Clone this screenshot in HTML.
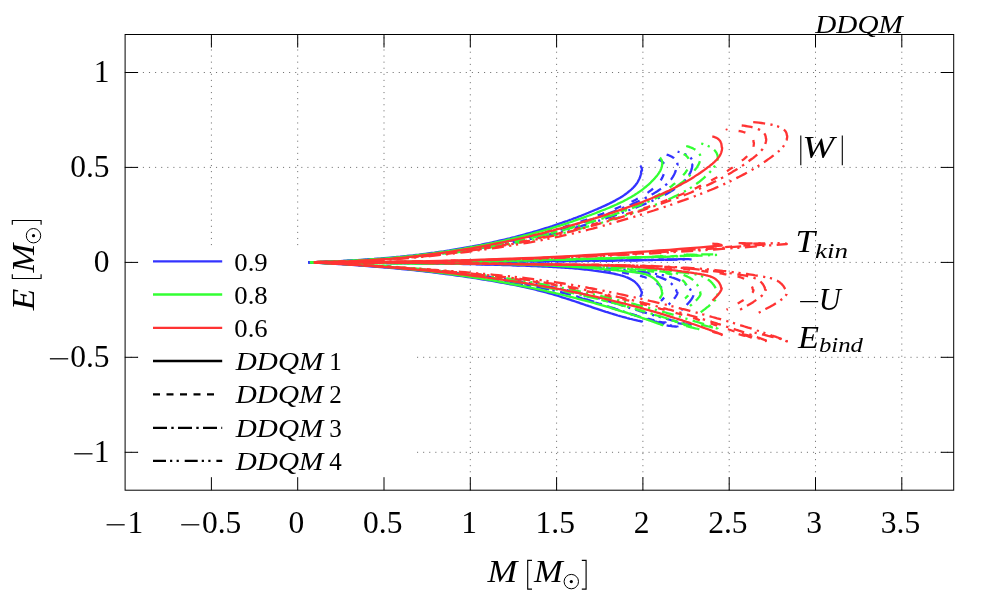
<!DOCTYPE html>
<html><head><meta charset="utf-8"><title>DDQM</title>
<style>html,body{margin:0;padding:0;background:#fff;font-family:"Liberation Serif",serif;}svg{display:block;will-change:transform}</style></head>
<body>
<svg width="997" height="598" viewBox="0 0 997 598">
<rect width="997" height="598" fill="#fff"/>
<g stroke="#000" stroke-opacity="0.55" stroke-width="1" stroke-dasharray="1.1 4.992" fill="none">
<path d="M211.4,245.12 V34.5" stroke-dasharray="1.1 4.980"/>
<path d="M297.7,245.12 V34.5" stroke-dasharray="1.1 4.980"/>
<path d="M384.0,245.12 V34.5" stroke-dasharray="1.1 4.980"/>
<path d="M470.3,490.55 V34.5" stroke-dasharray="1.1 4.980"/>
<path d="M556.6,490.55 V34.5" stroke-dasharray="1.1 4.980"/>
<path d="M642.9,490.55 V34.5" stroke-dasharray="1.1 4.980"/>
<path d="M729.2,490.55 V34.5" stroke-dasharray="1.1 4.980"/>
<path d="M815.5,490.55 V34.5" stroke-dasharray="1.1 4.980"/>
<path d="M901.8,490.55 V34.5" stroke-dasharray="1.1 4.980"/>
<path d="M124.6,72.5 H953.7"/>
<path d="M124.6,167.4 H953.7"/>
<path d="M124.6,262.4 H953.7"/>
<path d="M124.6,357.3 H953.7"/>
<path d="M124.6,452.3 H953.7"/>
</g>
<rect x="139" y="246.5" width="277.5" height="231.5" fill="#fff"/>
<g fill="none" stroke-width="2.3" stroke-linecap="butt" stroke-linejoin="round">
<g stroke="#3333ff">
<path d="M640.2,165.8 L640.4,165.9 L640.5,166.1 L640.6,166.2 L640.8,166.4 L640.9,166.6 L641.0,166.7 L641.1,166.9 L641.2,167.1 L641.3,167.3 L641.4,167.5 L641.5,167.7 L641.6,167.9 L641.7,168.1 L641.7,168.4 L641.8,168.6 L641.8,168.8 L641.9,169.1 L641.9,169.3 L641.9,169.6 L642.0,169.9 L642.0,170.1 L642.0,170.4 L642.0,170.7 L641.2,171.0 L641.2,171.2 L641.2,171.5 L641.2,171.8 L641.1,172.3 L641.1,172.7 L641.0,173.2 L640.9,173.8 L640.8,174.3 L640.7,175.0 L640.5,175.6 L640.3,176.3 L640.1,177.0 L639.8,177.8 L639.5,178.5 L639.1,179.3 L638.7,180.1 L638.3,180.9 L637.8,181.8 L637.3,182.6 L636.7,183.5 L636.1,184.3 L635.4,185.2 L634.7,186.1 L633.9,186.9 L633.1,187.8 L632.2,188.6 L631.3,189.5 L630.3,190.4 L629.3,191.2 L628.3,192.0 L627.2,192.9 L626.1,193.7 L625.0,194.5 L623.8,195.4 L622.6,196.2 L621.3,197.0 L620.1,197.8 L618.7,198.6 L617.4,199.3 L616.0,200.1 L614.6,200.9 L613.2,201.6 L611.7,202.4 L610.2,203.1 L608.7,203.9 L607.1,204.6 L605.5,205.4 L603.9,206.1 L602.3,206.8 L600.6,207.6 L598.9,208.3 L597.2,209.1 L595.5,209.8 L593.8,210.5 L592.0,211.3 L590.2,212.0 L588.4,212.8 L586.6,213.5 L584.7,214.3 L582.9,215.0 L581.0,215.8 L579.0,216.5 L577.1,217.3 L575.2,218.0 L573.2,218.7 L571.2,219.5 L569.2,220.2 L567.1,221.0 L565.1,221.7 L563.0,222.4 L560.9,223.2 L558.8,223.9 L556.6,224.6 L554.5,225.3 L552.3,226.1 L550.1,226.8 L547.9,227.5 L545.6,228.2 L543.4,228.9 L541.1,229.6 L538.8,230.3 L536.5,231.0 L534.1,231.7 L531.8,232.4 L529.4,233.0 L527.0,233.7 L524.6,234.4 L522.2,235.0 L519.7,235.7 L517.2,236.3 L514.7,237.0 L512.2,237.6 L509.7,238.3 L507.2,238.9 L504.6,239.5 L502.0,240.1 L499.4,240.7 L496.8,241.3 L494.1,241.9 L491.5,242.5 L488.8,243.1 L486.1,243.6 L483.4,244.2 L480.6,244.8 L477.9,245.3 L475.1,245.8 L472.3,246.4 L469.5,246.9 L466.7,247.4 L463.9,247.9 L461.0,248.4 L458.1,248.9 L455.2,249.4 L452.3,249.9 L449.4,250.4 L446.4,250.8 L443.5,251.3 L440.5,251.7 L437.5,252.1 L434.5,252.6 L431.5,253.0 L428.4,253.4 L425.3,253.8 L422.3,254.2 L419.2,254.6 L416.0,254.9 L412.9,255.3 L409.8,255.6 L406.6,256.0 L403.4,256.3 L400.2,256.7 L397.0,257.0 L393.8,257.3 L390.6,257.6 L387.3,257.9 L384.0,258.2 L380.7,258.5 L377.4,258.7 L374.1,259.0 L370.8,259.2 L367.5,259.5 L364.1,259.7 L360.7,259.9 L357.3,260.1 L353.9,260.4 L350.5,260.6 L347.1,260.8 L343.7,260.9 L340.2,261.1 L336.7,261.3 L333.2,261.4 L329.8,261.6 L326.2,261.7 L322.7,261.9 L319.2,262.0 L315.7,262.1 L312.1,262.2 L308.5,262.4"/>
<path d="M640.2,259.7 L640.7,259.7 L641.1,259.8 L641.4,259.8 L641.7,259.9 L641.9,259.9 L642.0,260.0 L642.0,260.0 L633.4,260.2 L624.9,260.3 L616.3,260.4 L607.7,260.5 L599.2,260.6 L590.6,260.7 L582.1,260.8 L573.5,260.9 L564.9,261.0 L556.4,261.1 L547.8,261.2 L539.2,261.3 L530.7,261.4 L522.1,261.5 L513.5,261.6 L505.0,261.6 L496.4,261.7 L487.8,261.8 L479.3,261.8 L470.7,261.9 L462.2,261.9 L453.6,262.0 L445.0,262.0 L436.5,262.1 L427.9,262.1 L419.3,262.2 L410.8,262.2 L402.2,262.2 L393.6,262.3 L385.1,262.3 L376.5,262.3 L367.9,262.3 L359.4,262.3 L350.8,262.4 L342.3,262.4 L333.7,262.4 L325.1,262.4 L316.6,262.4 L308.0,262.4"/>
<path d="M640.2,297.1 L640.4,296.8 L640.5,296.5 L640.6,296.2 L640.8,295.9 L640.9,295.6 L641.0,295.4 L641.1,295.1 L641.2,294.9 L641.3,294.6 L641.4,294.4 L641.5,294.1 L641.6,293.9 L641.7,293.7 L641.7,293.5 L641.8,293.3 L641.8,293.1 L641.9,293.0 L641.9,292.8 L641.9,292.6 L642.0,292.5 L642.0,292.4 L642.0,292.2 L642.0,292.1 L641.5,291.9 L641.5,291.7 L641.4,291.4 L641.3,291.1 L641.2,290.7 L641.0,290.3 L640.8,289.8 L640.6,289.3 L640.4,288.8 L640.1,288.3 L639.8,287.7 L639.4,287.1 L639.0,286.5 L638.6,285.9 L638.1,285.3 L637.6,284.7 L637.1,284.1 L636.5,283.4 L635.8,282.8 L635.2,282.2 L634.5,281.6 L633.7,281.1 L632.9,280.5 L632.0,279.9 L631.1,279.4 L630.1,278.9 L629.1,278.4 L628.1,277.9 L627.0,277.4 L625.8,277.0 L624.6,276.5 L623.4,276.1 L622.1,275.7 L620.8,275.4 L619.4,275.0 L618.0,274.7 L616.6,274.3 L615.1,274.0 L613.6,273.7 L612.1,273.4 L610.6,273.1 L609.0,272.8 L607.4,272.6 L605.8,272.3 L604.2,272.0 L602.5,271.8 L600.8,271.5 L599.1,271.3 L597.4,271.0 L595.7,270.8 L594.0,270.6 L592.2,270.3 L590.5,270.1 L588.7,269.9 L586.9,269.7 L585.0,269.5 L583.2,269.3 L581.3,269.1 L579.4,268.9 L577.6,268.7 L575.6,268.6 L573.7,268.4 L571.8,268.2 L569.8,268.1 L567.8,267.9 L565.8,267.8 L563.8,267.6 L561.8,267.5 L559.7,267.4 L557.7,267.3 L555.6,267.1 L553.5,267.0 L551.4,266.9 L549.3,266.8 L547.1,266.7 L544.9,266.6 L542.7,266.5 L540.5,266.4 L538.3,266.3 L536.1,266.2 L533.8,266.1 L531.5,266.0 L529.2,265.9 L526.9,265.8 L524.6,265.7 L522.2,265.6 L519.9,265.5 L517.5,265.5 L515.1,265.4 L512.7,265.3 L510.2,265.2 L507.8,265.1 L505.3,265.0 L502.8,265.0 L500.3,264.9 L497.8,264.8 L495.2,264.7 L492.7,264.7 L490.1,264.6 L487.5,264.5 L484.9,264.5 L482.3,264.4 L479.6,264.3 L477.0,264.3 L474.3,264.2 L471.6,264.1 L468.9,264.1 L466.2,264.0 L463.4,264.0 L460.7,263.9 L457.9,263.9 L455.1,263.8 L452.3,263.8 L449.5,263.7 L446.7,263.7 L443.8,263.6 L441.0,263.6 L438.1,263.5 L435.2,263.5 L432.3,263.4 L429.4,263.4 L426.4,263.4 L423.5,263.3 L420.5,263.3 L417.5,263.3 L414.5,263.2 L411.5,263.2 L408.5,263.2 L405.4,263.1 L402.4,263.1 L399.3,263.1 L396.3,263.0 L393.2,263.0 L390.1,263.0 L386.9,263.0 L383.8,262.9 L380.7,262.9 L377.5,262.9 L374.3,262.9 L371.2,262.8 L368.0,262.8 L364.8,262.8 L361.5,262.8 L358.3,262.7 L355.1,262.7 L351.8,262.7 L348.6,262.7 L345.3,262.7 L342.0,262.6 L338.7,262.6 L335.4,262.6 L332.1,262.6 L328.7,262.5 L325.4,262.5 L322.0,262.5 L318.7,262.5 L315.3,262.4 L311.9,262.4 L308.5,262.4"/>
<path d="M640.2,321.3 L640.4,321.3 L640.6,321.4 L640.8,321.4 L641.0,321.4 L641.2,321.4 L641.4,321.4 L641.6,321.5 L641.8,321.5 L642.0,321.4 L641.9,321.5 L641.7,321.4 L641.4,321.4 L641.1,321.3 L640.7,321.2 L640.2,321.1 L639.7,321.0 L639.2,320.9 L638.6,320.8 L638.0,320.7 L637.3,320.5 L636.6,320.4 L635.9,320.2 L635.2,320.0 L634.4,319.9 L633.5,319.7 L632.7,319.5 L631.8,319.2 L630.9,319.0 L629.9,318.8 L629.0,318.5 L628.0,318.3 L626.9,318.0 L625.9,317.7 L624.8,317.4 L623.7,317.1 L622.6,316.8 L621.4,316.5 L620.3,316.2 L619.1,315.8 L617.8,315.5 L616.6,315.1 L615.3,314.7 L614.1,314.3 L612.7,313.9 L611.4,313.5 L610.1,313.1 L608.7,312.7 L607.3,312.2 L605.9,311.8 L604.4,311.3 L603.0,310.9 L601.5,310.4 L600.0,309.9 L598.5,309.4 L597.0,308.9 L595.4,308.4 L593.8,307.8 L592.3,307.3 L590.6,306.7 L589.0,306.2 L587.4,305.6 L585.7,305.1 L584.0,304.5 L582.3,303.9 L580.6,303.3 L578.8,302.7 L577.1,302.1 L575.3,301.5 L573.5,300.9 L571.7,300.3 L569.8,299.7 L568.0,299.1 L566.1,298.5 L564.2,297.9 L562.3,297.3 L560.4,296.6 L558.4,296.0 L556.5,295.4 L554.5,294.8 L552.5,294.2 L550.4,293.7 L548.4,293.1 L546.3,292.5 L544.2,291.9 L542.1,291.4 L540.0,290.8 L537.8,290.3 L535.7,289.7 L533.5,289.2 L531.3,288.7 L529.0,288.2 L526.8,287.6 L524.5,287.1 L522.2,286.6 L519.9,286.2 L517.6,285.7 L515.3,285.2 L512.9,284.7 L510.5,284.3 L508.1,283.8 L505.7,283.3 L503.3,282.9 L500.8,282.5 L498.4,282.0 L495.9,281.6 L493.4,281.2 L490.9,280.7 L488.3,280.3 L485.8,279.9 L483.2,279.5 L480.6,279.0 L478.0,278.6 L475.4,278.2 L472.8,277.8 L470.2,277.4 L467.5,277.0 L464.8,276.6 L462.1,276.2 L459.4,275.9 L456.7,275.5 L453.9,275.1 L451.2,274.7 L448.4,274.3 L445.6,274.0 L442.8,273.6 L440.0,273.3 L437.1,272.9 L434.3,272.6 L431.4,272.2 L428.5,271.9 L425.6,271.5 L422.7,271.2 L419.8,270.9 L416.9,270.6 L413.9,270.2 L410.9,269.9 L407.9,269.6 L404.9,269.3 L401.9,269.0 L398.9,268.7 L395.8,268.4 L392.8,268.1 L389.7,267.8 L386.6,267.6 L383.5,267.3 L380.4,267.0 L377.3,266.8 L374.1,266.5 L371.0,266.3 L367.8,266.0 L364.6,265.8 L361.4,265.5 L358.2,265.3 L355.0,265.1 L351.8,264.8 L348.5,264.6 L345.2,264.4 L342.0,264.2 L338.7,264.0 L335.4,263.8 L332.1,263.6 L328.7,263.4 L325.4,263.2 L322.0,263.0 L318.7,262.8 L315.3,262.7 L311.9,262.5 L308.5,262.3"/>
<path d="M658.6,159.6 L659.2,159.9 L659.7,160.1 L660.3,160.4 L660.8,160.7 L661.3,161.0 L661.7,161.3 L662.2,161.6 L662.6,162.0 L662.9,162.3 L663.3,162.7 L663.6,163.1 L663.9,163.5 L664.2,163.9 L664.4,164.3 L664.7,164.7 L664.9,165.1 L665.0,165.6 L665.2,166.0 L665.3,166.5 L665.4,167.0 L665.4,167.5 L665.5,168.0 L665.5,168.5 L664.7,168.8 L664.7,169.0 L664.6,169.3 L664.6,169.7 L664.6,170.1 L664.5,170.6 L664.4,171.1 L664.3,171.6 L664.2,172.2 L664.1,172.9 L663.9,173.5 L663.7,174.2 L663.4,175.0 L663.1,175.7 L662.8,176.5 L662.4,177.3 L662.0,178.2 L661.5,179.0 L661.0,179.9 L660.5,180.7 L659.8,181.6 L659.2,182.5 L658.4,183.4 L657.7,184.2 L656.8,185.1 L656.0,186.0 L655.0,186.9 L654.1,187.8 L653.0,188.6 L652.0,189.5 L650.9,190.4 L649.7,191.2 L648.5,192.1 L647.3,192.9 L646.1,193.7 L644.8,194.6 L643.4,195.4 L642.1,196.2 L640.7,197.0 L639.2,197.8 L637.7,198.6 L636.2,199.4 L634.7,200.2 L633.1,201.0 L631.5,201.7 L629.9,202.5 L628.2,203.2 L626.5,204.0 L624.8,204.8 L623.1,205.5 L621.3,206.3 L619.5,207.0 L617.7,207.8 L615.8,208.5 L614.0,209.3 L612.1,210.1 L610.2,210.8 L608.2,211.6 L606.3,212.4 L604.3,213.1 L602.3,213.9 L600.3,214.6 L598.2,215.4 L596.2,216.2 L594.1,216.9 L592.0,217.7 L589.8,218.5 L587.7,219.2 L585.5,220.0 L583.3,220.7 L581.1,221.5 L578.9,222.2 L576.6,223.0 L574.3,223.7 L572.0,224.5 L569.7,225.2 L567.3,225.9 L565.0,226.7 L562.6,227.4 L560.1,228.1 L557.7,228.8 L555.3,229.5 L552.8,230.2 L550.3,230.9 L547.8,231.6 L545.2,232.3 L542.7,233.0 L540.1,233.7 L537.5,234.4 L534.9,235.1 L532.2,235.7 L529.6,236.4 L526.9,237.0 L524.2,237.7 L521.5,238.3 L518.7,239.0 L515.9,239.6 L513.2,240.2 L510.4,240.8 L507.5,241.4 L504.7,242.0 L501.8,242.6 L499.0,243.2 L496.1,243.8 L493.1,244.3 L490.2,244.9 L487.2,245.5 L484.3,246.0 L481.3,246.5 L478.2,247.1 L475.2,247.6 L472.1,248.1 L469.1,248.6 L466.0,249.1 L462.9,249.6 L459.7,250.1 L456.6,250.5 L453.4,251.0 L450.2,251.4 L447.0,251.9 L443.8,252.3 L440.6,252.8 L437.3,253.2 L434.1,253.6 L430.8,254.0 L427.4,254.4 L424.1,254.8 L420.8,255.1 L417.4,255.5 L414.0,255.8 L410.6,256.2 L407.2,256.5 L403.8,256.9 L400.4,257.2 L396.9,257.5 L393.4,257.8 L389.9,258.1 L386.4,258.4 L382.9,258.6 L379.4,258.9 L375.8,259.2 L372.2,259.4 L368.6,259.6 L365.0,259.9 L361.4,260.1 L357.8,260.3 L354.1,260.5 L350.5,260.7 L346.8,260.9 L343.1,261.1 L339.4,261.3 L335.7,261.4 L331.9,261.6 L328.2,261.7 L324.4,261.9 L320.7,262.0 L316.9,262.1 L313.1,262.2 L309.3,262.4" stroke-dasharray="7 11.3"/>
<path d="M658.6,259.4 L660.4,259.5 L662.0,259.5 L663.2,259.5 L664.2,259.6 L664.9,259.6 L665.4,259.7 L665.5,259.7 L656.3,259.9 L647.2,260.0 L638.0,260.2 L628.8,260.3 L619.7,260.4 L610.5,260.5 L601.3,260.7 L592.2,260.8 L583.0,260.9 L573.8,261.0 L564.7,261.1 L555.5,261.2 L546.3,261.3 L537.2,261.4 L528.0,261.5 L518.8,261.5 L509.7,261.6 L500.5,261.7 L491.3,261.8 L482.2,261.8 L473.0,261.9 L463.8,261.9 L454.7,262.0 L445.5,262.0 L436.3,262.1 L427.2,262.1 L418.0,262.2 L408.8,262.2 L399.7,262.2 L390.5,262.3 L381.3,262.3 L372.2,262.3 L363.0,262.3 L353.8,262.4 L344.7,262.4 L335.5,262.4 L326.3,262.4 L317.2,262.4 L308.0,262.4" stroke-dasharray="7 11.3"/>
<path d="M661.0,301.0 L661.4,300.6 L661.7,300.3 L662.1,299.9 L662.4,299.6 L662.7,299.2 L663.0,298.9 L663.3,298.6 L663.6,298.3 L663.8,298.0 L664.1,297.7 L664.3,297.5 L664.5,297.2 L664.6,296.9 L664.8,296.7 L665.0,296.5 L665.1,296.3 L665.2,296.0 L665.3,295.8 L665.4,295.7 L665.4,295.5 L665.5,295.3 L665.5,295.1 L665.5,295.0 L665.0,294.8 L664.9,294.6 L664.9,294.3 L664.8,293.9 L664.6,293.5 L664.5,293.0 L664.3,292.5 L664.0,292.0 L663.7,291.4 L663.4,290.8 L663.1,290.2 L662.7,289.5 L662.3,288.9 L661.8,288.2 L661.4,287.5 L660.8,286.8 L660.2,286.2 L659.6,285.5 L658.9,284.8 L658.2,284.2 L657.4,283.5 L656.6,282.9 L655.7,282.3 L654.8,281.7 L653.9,281.1 L652.8,280.5 L651.8,279.9 L650.6,279.4 L649.5,278.9 L648.2,278.4 L647.0,277.9 L645.6,277.5 L644.3,277.0 L642.9,276.6 L641.4,276.2 L639.9,275.8 L638.4,275.5 L636.8,275.1 L635.2,274.8 L633.6,274.5 L631.9,274.2 L630.2,273.9 L628.5,273.6 L626.8,273.3 L625.1,273.0 L623.3,272.7 L621.5,272.4 L619.7,272.1 L617.9,271.9 L616.1,271.6 L614.2,271.3 L612.3,271.1 L610.4,270.9 L608.5,270.6 L606.6,270.4 L604.6,270.2 L602.7,270.0 L600.7,269.7 L598.7,269.5 L596.7,269.3 L594.6,269.2 L592.6,269.0 L590.5,268.8 L588.4,268.6 L586.3,268.5 L584.1,268.3 L582.0,268.2 L579.8,268.0 L577.6,267.9 L575.4,267.7 L573.2,267.6 L571.0,267.5 L568.7,267.3 L566.4,267.2 L564.1,267.1 L561.8,267.0 L559.5,266.9 L557.1,266.8 L554.7,266.7 L552.3,266.6 L549.9,266.5 L547.5,266.3 L545.0,266.2 L542.6,266.1 L540.1,266.0 L537.6,265.9 L535.0,265.9 L532.5,265.8 L529.9,265.7 L527.3,265.6 L524.7,265.5 L522.1,265.4 L519.5,265.3 L516.8,265.2 L514.1,265.1 L511.4,265.1 L508.7,265.0 L506.0,264.9 L503.2,264.8 L500.5,264.7 L497.7,264.7 L494.9,264.6 L492.0,264.5 L489.2,264.4 L486.3,264.4 L483.5,264.3 L480.6,264.2 L477.7,264.2 L474.7,264.1 L471.8,264.1 L468.8,264.0 L465.9,263.9 L462.9,263.9 L459.9,263.8 L456.8,263.8 L453.8,263.7 L450.7,263.7 L447.7,263.6 L444.6,263.6 L441.5,263.5 L438.3,263.5 L435.2,263.5 L432.0,263.4 L428.9,263.4 L425.7,263.3 L422.5,263.3 L419.3,263.3 L416.0,263.2 L412.8,263.2 L409.5,263.2 L406.3,263.1 L403.0,263.1 L399.7,263.1 L396.4,263.0 L393.0,263.0 L389.7,263.0 L386.3,263.0 L383.0,262.9 L379.6,262.9 L376.2,262.9 L372.8,262.9 L369.3,262.8 L365.9,262.8 L362.4,262.8 L359.0,262.8 L355.5,262.7 L352.0,262.7 L348.5,262.7 L345.0,262.7 L341.5,262.6 L338.0,262.6 L334.4,262.6 L330.9,262.6 L327.3,262.5 L323.7,262.5 L320.1,262.5 L316.5,262.5 L312.9,262.4 L309.3,262.4" stroke-dasharray="7 11.3" stroke-dashoffset="2.3"/>
<path d="M658.6,321.8 L659.4,321.9 L660.1,322.0 L660.9,322.1 L661.7,322.2 L662.4,322.3 L663.2,322.4 L664.0,322.5 L664.7,322.5 L665.5,322.5 L665.4,322.6 L665.1,322.5 L664.9,322.5 L664.5,322.4 L664.1,322.3 L663.6,322.2 L663.1,322.1 L662.5,322.0 L661.9,321.9 L661.2,321.8 L660.5,321.6 L659.8,321.5 L659.0,321.3 L658.2,321.1 L657.3,320.9 L656.5,320.7 L655.5,320.5 L654.6,320.3 L653.6,320.1 L652.6,319.8 L651.6,319.6 L650.5,319.3 L649.4,319.0 L648.3,318.8 L647.1,318.5 L646.0,318.2 L644.8,317.8 L643.5,317.5 L642.3,317.2 L641.0,316.8 L639.7,316.5 L638.4,316.1 L637.0,315.7 L635.6,315.3 L634.2,314.9 L632.8,314.5 L631.4,314.1 L629.9,313.6 L628.4,313.2 L626.9,312.7 L625.4,312.2 L623.8,311.8 L622.3,311.3 L620.7,310.8 L619.0,310.2 L617.4,309.7 L615.7,309.2 L614.1,308.7 L612.4,308.1 L610.6,307.5 L608.9,307.0 L607.1,306.4 L605.4,305.8 L603.6,305.2 L601.7,304.6 L599.9,304.0 L598.0,303.4 L596.2,302.8 L594.2,302.2 L592.3,301.6 L590.4,301.0 L588.4,300.4 L586.4,299.7 L584.4,299.1 L582.4,298.5 L580.4,297.8 L578.3,297.2 L576.2,296.6 L574.1,296.0 L572.0,295.4 L569.8,294.8 L567.7,294.1 L565.5,293.5 L563.3,293.0 L561.0,292.4 L558.8,291.8 L556.5,291.2 L554.2,290.7 L551.9,290.1 L549.6,289.6 L547.2,289.0 L544.8,288.5 L542.4,288.0 L540.0,287.4 L537.6,286.9 L535.1,286.4 L532.6,285.9 L530.1,285.4 L527.6,284.9 L525.1,284.4 L522.5,284.0 L519.9,283.5 L517.3,283.0 L514.7,282.6 L512.1,282.1 L509.4,281.7 L506.8,281.2 L504.1,280.8 L501.4,280.4 L498.6,279.9 L495.9,279.5 L493.1,279.1 L490.4,278.6 L487.6,278.2 L484.8,277.8 L481.9,277.4 L479.1,277.0 L476.2,276.6 L473.3,276.2 L470.4,275.8 L467.5,275.4 L464.6,275.1 L461.6,274.7 L458.7,274.3 L455.7,274.0 L452.7,273.6 L449.7,273.2 L446.7,272.9 L443.6,272.6 L440.5,272.2 L437.5,271.9 L434.4,271.5 L431.3,271.2 L428.1,270.9 L425.0,270.6 L421.8,270.3 L418.7,270.0 L415.5,269.6 L412.3,269.3 L409.0,269.0 L405.8,268.8 L402.5,268.5 L399.3,268.2 L396.0,267.9 L392.7,267.6 L389.4,267.4 L386.0,267.1 L382.7,266.8 L379.3,266.6 L376.0,266.3 L372.6,266.1 L369.2,265.8 L365.8,265.6 L362.3,265.3 L358.9,265.1 L355.4,264.9 L352.0,264.6 L348.5,264.4 L345.0,264.2 L341.5,264.0 L337.9,263.8 L334.4,263.6 L330.8,263.4 L327.3,263.2 L323.7,263.0 L320.1,262.9 L316.5,262.7 L312.9,262.5 L309.2,262.3" stroke-dasharray="7 11.3"/>
<path d="M666.6,154.6 L667.5,154.9 L668.4,155.2 L669.3,155.5 L670.1,155.9 L670.8,156.2 L671.5,156.6 L672.2,157.0 L672.9,157.4 L673.5,157.8 L674.0,158.2 L674.5,158.7 L675.0,159.1 L675.4,159.6 L675.8,160.1 L676.2,160.6 L676.5,161.1 L676.8,161.6 L677.0,162.1 L677.2,162.7 L677.3,163.2 L677.4,163.8 L677.5,164.4 L677.5,165.0 L676.6,165.3 L676.6,165.5 L676.6,165.9 L676.6,166.2 L676.5,166.6 L676.5,167.1 L676.4,167.7 L676.3,168.2 L676.2,168.9 L676.0,169.5 L675.8,170.2 L675.6,170.9 L675.4,171.7 L675.1,172.5 L674.7,173.3 L674.3,174.2 L673.9,175.0 L673.4,175.9 L672.9,176.8 L672.3,177.7 L671.7,178.6 L671.0,179.5 L670.2,180.4 L669.4,181.3 L668.6,182.2 L667.7,183.2 L666.7,184.1 L665.7,185.0 L664.6,185.9 L663.5,186.8 L662.4,187.7 L661.2,188.6 L660.0,189.4 L658.7,190.3 L657.4,191.2 L656.1,192.0 L654.7,192.9 L653.3,193.8 L651.8,194.6 L650.4,195.4 L648.8,196.2 L647.3,197.1 L645.7,197.9 L644.1,198.7 L642.4,199.5 L640.7,200.3 L639.0,201.0 L637.3,201.8 L635.5,202.6 L633.7,203.4 L631.9,204.2 L630.0,205.0 L628.1,205.7 L626.2,206.5 L624.3,207.3 L622.3,208.1 L620.4,208.9 L618.4,209.7 L616.4,210.5 L614.3,211.3 L612.3,212.1 L610.2,212.9 L608.1,213.7 L605.9,214.5 L603.8,215.2 L601.6,216.0 L599.4,216.8 L597.2,217.6 L594.9,218.4 L592.6,219.2 L590.3,219.9 L588.0,220.7 L585.7,221.5 L583.3,222.3 L580.9,223.0 L578.5,223.8 L576.1,224.6 L573.7,225.3 L571.2,226.1 L568.7,226.8 L566.2,227.6 L563.7,228.3 L561.1,229.0 L558.5,229.8 L555.9,230.5 L553.3,231.2 L550.7,231.9 L548.0,232.6 L545.3,233.3 L542.6,234.0 L539.9,234.7 L537.1,235.4 L534.4,236.1 L531.6,236.8 L528.8,237.4 L525.9,238.1 L523.1,238.7 L520.2,239.4 L517.3,240.0 L514.4,240.6 L511.4,241.3 L508.5,241.9 L505.5,242.5 L502.5,243.1 L499.5,243.7 L496.5,244.2 L493.4,244.8 L490.3,245.4 L487.2,245.9 L484.1,246.5 L481.0,247.0 L477.8,247.6 L474.7,248.1 L471.5,248.6 L468.3,249.1 L465.0,249.6 L461.8,250.1 L458.5,250.6 L455.2,251.0 L451.9,251.5 L448.6,252.0 L445.2,252.4 L441.9,252.8 L438.5,253.2 L435.1,253.7 L431.7,254.1 L428.2,254.5 L424.8,254.9 L421.3,255.2 L417.8,255.6 L414.3,256.0 L410.8,256.3 L407.3,256.6 L403.7,257.0 L400.1,257.3 L396.5,257.6 L392.9,257.9 L389.3,258.2 L385.7,258.5 L382.0,258.8 L378.3,259.0 L374.7,259.3 L370.9,259.5 L367.2,259.8 L363.5,260.0 L359.7,260.2 L356.0,260.4 L352.2,260.6 L348.4,260.8 L344.6,261.0 L340.8,261.2 L336.9,261.4 L333.1,261.5 L329.2,261.7 L325.3,261.8 L321.4,262.0 L317.5,262.1 L313.6,262.2 L309.6,262.4" stroke-dasharray="11 5.6 2.4 5.5" stroke-dashoffset="2.6"/>
<path d="M666.6,259.3 L669.5,259.3 L671.9,259.3 L673.9,259.3 L675.5,259.4 L676.6,259.4 L677.3,259.5 L677.5,259.6 L668.0,259.7 L658.6,259.9 L649.1,260.0 L639.6,260.1 L630.1,260.3 L620.7,260.4 L611.2,260.5 L601.7,260.7 L592.2,260.8 L582.8,260.9 L573.3,261.0 L563.8,261.1 L554.3,261.2 L544.9,261.3 L535.4,261.4 L525.9,261.5 L516.4,261.6 L507.0,261.6 L497.5,261.7 L488.0,261.8 L478.5,261.8 L469.1,261.9 L459.6,262.0 L450.1,262.0 L440.6,262.1 L431.2,262.1 L421.7,262.2 L412.2,262.2 L402.7,262.2 L393.3,262.3 L383.8,262.3 L374.3,262.3 L364.8,262.3 L355.4,262.4 L345.9,262.4 L336.4,262.4 L326.9,262.4 L317.5,262.4 L308.0,262.4" stroke-dasharray="11 5.6 2.4 5.5"/>
<path d="M668.6,304.6 L669.4,303.8 L670.1,303.1 L670.8,302.4 L671.4,301.7 L672.0,301.0 L672.6,300.4 L673.2,299.8 L673.7,299.2 L674.2,298.6 L674.7,298.0 L675.1,297.5 L675.5,296.9 L675.8,296.4 L676.1,295.9 L676.4,295.5 L676.7,295.0 L676.9,294.6 L677.1,294.2 L677.2,293.8 L677.3,293.5 L677.4,293.1 L677.5,292.8 L677.5,292.5 L677.0,292.3 L676.9,292.1 L676.8,291.8 L676.7,291.5 L676.6,291.1 L676.4,290.7 L676.2,290.2 L676.0,289.7 L675.7,289.2 L675.4,288.6 L675.0,288.0 L674.6,287.4 L674.2,286.8 L673.7,286.2 L673.2,285.6 L672.7,285.0 L672.1,284.4 L671.4,283.7 L670.7,283.1 L670.0,282.5 L669.2,281.9 L668.3,281.3 L667.4,280.7 L666.5,280.2 L665.5,279.6 L664.4,279.1 L663.3,278.6 L662.1,278.1 L660.9,277.6 L659.7,277.2 L658.4,276.7 L657.0,276.3 L655.6,275.9 L654.1,275.5 L652.6,275.2 L651.1,274.8 L649.5,274.5 L647.9,274.2 L646.2,273.9 L644.5,273.6 L642.8,273.3 L641.1,273.0 L639.3,272.7 L637.5,272.4 L635.7,272.2 L633.9,271.9 L632.1,271.6 L630.2,271.4 L628.4,271.1 L626.5,270.9 L624.5,270.7 L622.6,270.4 L620.6,270.2 L618.7,270.0 L616.7,269.8 L614.7,269.6 L612.6,269.4 L610.6,269.2 L608.5,269.0 L606.4,268.8 L604.3,268.6 L602.2,268.5 L600.0,268.3 L597.9,268.1 L595.7,268.0 L593.5,267.9 L591.3,267.7 L589.0,267.6 L586.8,267.4 L584.5,267.3 L582.2,267.2 L579.9,267.1 L577.5,267.0 L575.2,266.9 L572.8,266.7 L570.4,266.6 L568.0,266.5 L565.6,266.4 L563.1,266.3 L560.7,266.2 L558.2,266.1 L555.7,266.0 L553.1,266.0 L550.6,265.9 L548.0,265.8 L545.4,265.7 L542.8,265.6 L540.2,265.5 L537.5,265.4 L534.8,265.3 L532.1,265.2 L529.4,265.2 L526.7,265.1 L524.0,265.0 L521.2,264.9 L518.4,264.8 L515.6,264.8 L512.8,264.7 L509.9,264.6 L507.1,264.6 L504.2,264.5 L501.3,264.4 L498.4,264.4 L495.5,264.3 L492.5,264.2 L489.5,264.2 L486.5,264.1 L483.5,264.0 L480.5,264.0 L477.5,263.9 L474.4,263.9 L471.4,263.8 L468.3,263.8 L465.2,263.7 L462.0,263.7 L458.9,263.6 L455.7,263.6 L452.6,263.5 L449.4,263.5 L446.1,263.5 L442.9,263.4 L439.7,263.4 L436.4,263.3 L433.2,263.3 L429.9,263.3 L426.6,263.2 L423.2,263.2 L419.9,263.2 L416.6,263.1 L413.2,263.1 L409.8,263.1 L406.4,263.0 L403.0,263.0 L399.6,263.0 L396.1,263.0 L392.7,262.9 L389.2,262.9 L385.7,262.9 L382.2,262.9 L378.7,262.8 L375.2,262.8 L371.7,262.8 L368.1,262.8 L364.6,262.7 L361.0,262.7 L357.4,262.7 L353.8,262.7 L350.2,262.7 L346.6,262.6 L342.9,262.6 L339.3,262.6 L335.6,262.6 L331.9,262.5 L328.2,262.5 L324.6,262.5 L320.8,262.5 L317.1,262.4 L313.4,262.4 L309.7,262.4" stroke-dasharray="11 5.6 2.4 5.5" stroke-dashoffset="16.6"/>
<path d="M666.6,325.4 L667.8,325.6 L669.0,325.8 L670.2,325.9 L671.4,326.1 L672.7,326.3 L673.9,326.4 L675.1,326.5 L676.3,326.7 L677.5,326.7 L677.4,326.8 L677.1,326.8 L676.8,326.7 L676.5,326.6 L676.0,326.5 L675.5,326.4 L675.0,326.3 L674.4,326.2 L673.8,326.1 L673.1,325.9 L672.3,325.7 L671.6,325.6 L670.8,325.4 L669.9,325.2 L669.1,325.0 L668.2,324.8 L667.2,324.6 L666.2,324.3 L665.2,324.1 L664.2,323.8 L663.1,323.6 L662.0,323.3 L660.9,323.0 L659.7,322.7 L658.5,322.4 L657.3,322.1 L656.1,321.7 L654.8,321.4 L653.5,321.0 L652.2,320.6 L650.9,320.2 L649.5,319.8 L648.1,319.4 L646.7,319.0 L645.2,318.6 L643.8,318.1 L642.3,317.7 L640.8,317.2 L639.2,316.7 L637.7,316.2 L636.1,315.7 L634.5,315.2 L632.8,314.7 L631.2,314.1 L629.5,313.6 L627.8,313.0 L626.1,312.5 L624.4,311.9 L622.6,311.3 L620.9,310.7 L619.1,310.1 L617.2,309.5 L615.4,308.9 L613.5,308.2 L611.7,307.6 L609.8,307.0 L607.8,306.3 L605.9,305.6 L603.9,305.0 L601.9,304.3 L599.9,303.7 L597.9,303.0 L595.9,302.3 L593.8,301.7 L591.7,301.0 L589.6,300.3 L587.5,299.6 L585.3,299.0 L583.1,298.3 L580.9,297.6 L578.7,297.0 L576.5,296.3 L574.2,295.7 L571.9,295.1 L569.6,294.4 L567.3,293.8 L565.0,293.2 L562.6,292.6 L560.2,292.0 L557.8,291.4 L555.3,290.8 L552.9,290.3 L550.4,289.7 L547.9,289.1 L545.4,288.6 L542.8,288.0 L540.3,287.5 L537.7,287.0 L535.1,286.4 L532.5,285.9 L529.8,285.4 L527.2,284.9 L524.5,284.4 L521.8,283.9 L519.1,283.4 L516.3,283.0 L513.6,282.5 L510.8,282.0 L508.0,281.5 L505.2,281.1 L502.4,280.6 L499.5,280.2 L496.6,279.7 L493.8,279.3 L490.9,278.8 L487.9,278.4 L485.0,278.0 L482.0,277.5 L479.1,277.1 L476.1,276.7 L473.1,276.3 L470.0,275.9 L467.0,275.5 L463.9,275.1 L460.9,274.7 L457.8,274.3 L454.6,274.0 L451.5,273.6 L448.4,273.2 L445.2,272.8 L442.0,272.5 L438.8,272.1 L435.6,271.8 L432.4,271.5 L429.1,271.1 L425.9,270.8 L422.6,270.5 L419.3,270.1 L416.0,269.8 L412.7,269.5 L409.3,269.2 L406.0,268.9 L402.6,268.6 L399.2,268.3 L395.8,268.0 L392.4,267.7 L388.9,267.4 L385.5,267.1 L382.0,266.8 L378.5,266.6 L375.0,266.3 L371.5,266.0 L368.0,265.8 L364.5,265.5 L360.9,265.3 L357.3,265.0 L353.7,264.8 L350.1,264.6 L346.5,264.3 L342.9,264.1 L339.3,263.9 L335.6,263.7 L331.9,263.5 L328.2,263.3 L324.5,263.1 L320.8,262.9 L317.1,262.7 L313.4,262.5 L309.6,262.3" stroke-dasharray="11 5.6 2.4 5.5"/>
<path d="M677.6,151.6 L678.9,152.0 L680.2,152.3 L681.4,152.7 L682.6,153.1 L683.7,153.6 L684.7,154.0 L685.7,154.5 L686.6,154.9 L687.5,155.4 L688.3,155.9 L689.0,156.4 L689.7,157.0 L690.3,157.5 L690.9,158.1 L691.4,158.7 L691.8,159.3 L692.2,159.9 L692.6,160.6 L692.8,161.2 L693.0,161.9 L693.2,162.6 L693.3,163.3 L693.3,164.0 L692.4,164.3 L692.4,164.6 L692.4,164.9 L692.3,165.2 L692.3,165.7 L692.2,166.2 L692.2,166.7 L692.1,167.3 L691.9,167.9 L691.8,168.6 L691.6,169.3 L691.3,170.0 L691.1,170.8 L690.8,171.6 L690.4,172.4 L690.0,173.2 L689.5,174.1 L689.0,175.0 L688.5,175.9 L687.9,176.8 L687.2,177.7 L686.5,178.6 L685.7,179.6 L684.9,180.5 L684.0,181.4 L683.0,182.3 L682.0,183.3 L681.0,184.2 L679.9,185.1 L678.7,186.0 L677.6,186.9 L676.3,187.8 L675.0,188.7 L673.7,189.6 L672.4,190.5 L671.0,191.3 L669.6,192.2 L668.1,193.0 L666.6,193.9 L665.0,194.7 L663.4,195.6 L661.8,196.4 L660.2,197.2 L658.5,198.0 L656.8,198.8 L655.0,199.6 L653.2,200.4 L651.4,201.2 L649.5,202.0 L647.7,202.8 L645.8,203.6 L643.8,204.4 L641.9,205.2 L639.9,206.0 L637.9,206.8 L635.9,207.6 L633.8,208.4 L631.7,209.2 L629.6,210.0 L627.5,210.8 L625.3,211.6 L623.2,212.4 L621.0,213.2 L618.7,214.0 L616.5,214.8 L614.2,215.6 L611.9,216.4 L609.6,217.1 L607.3,217.9 L604.9,218.7 L602.5,219.5 L600.1,220.3 L597.7,221.1 L595.2,221.9 L592.7,222.6 L590.2,223.4 L587.7,224.2 L585.2,224.9 L582.6,225.7 L580.0,226.5 L577.4,227.2 L574.7,228.0 L572.1,228.7 L569.4,229.4 L566.7,230.2 L563.9,230.9 L561.2,231.6 L558.4,232.3 L555.6,233.0 L552.8,233.7 L549.9,234.4 L547.1,235.1 L544.2,235.8 L541.3,236.5 L538.4,237.2 L535.4,237.8 L532.4,238.5 L529.4,239.1 L526.4,239.8 L523.4,240.4 L520.3,241.0 L517.3,241.7 L514.2,242.3 L511.0,242.9 L507.9,243.5 L504.7,244.1 L501.6,244.6 L498.4,245.2 L495.1,245.8 L491.9,246.3 L488.6,246.9 L485.3,247.4 L482.0,247.9 L478.7,248.5 L475.4,249.0 L472.0,249.5 L468.6,250.0 L465.2,250.4 L461.8,250.9 L458.3,251.4 L454.9,251.8 L451.4,252.3 L447.9,252.7 L444.4,253.2 L440.8,253.6 L437.3,254.0 L433.7,254.4 L430.1,254.8 L426.5,255.2 L422.8,255.5 L419.2,255.9 L415.5,256.2 L411.8,256.6 L408.1,256.9 L404.4,257.2 L400.7,257.6 L396.9,257.9 L393.1,258.2 L389.3,258.5 L385.5,258.7 L381.7,259.0 L377.9,259.3 L374.0,259.5 L370.1,259.8 L366.2,260.0 L362.3,260.2 L358.4,260.4 L354.5,260.6 L350.5,260.8 L346.5,261.0 L342.5,261.2 L338.5,261.4 L334.5,261.5 L330.5,261.7 L326.5,261.8 L322.4,262.0 L318.3,262.1 L314.2,262.2 L310.1,262.4" stroke-dasharray="12 5.4 2.2 4.7 2.2 5.4" stroke-dashoffset="10"/>
<path d="M677.6,259.1 L681.8,259.1 L685.3,259.1 L688.2,259.2 L690.4,259.2 L692.0,259.2 L693.0,259.3 L693.3,259.4 L683.4,259.5 L673.5,259.7 L663.7,259.8 L653.8,260.0 L643.9,260.1 L634.0,260.3 L624.1,260.4 L614.3,260.5 L604.4,260.7 L594.5,260.8 L584.6,260.9 L574.7,261.0 L564.9,261.1 L555.0,261.2 L545.1,261.3 L535.2,261.4 L525.3,261.5 L515.5,261.6 L505.6,261.7 L495.7,261.7 L485.8,261.8 L476.0,261.9 L466.1,261.9 L456.2,262.0 L446.3,262.0 L436.4,262.1 L426.6,262.1 L416.7,262.2 L406.8,262.2 L396.9,262.3 L387.0,262.3 L377.2,262.3 L367.3,262.3 L357.4,262.4 L347.5,262.4 L337.6,262.4 L327.8,262.4 L317.9,262.4 L308.0,262.4" stroke-dasharray="12 5.4 2.2 4.7 2.2 5.4"/>
<path d="M681.2,310.2 L682.2,309.3 L683.2,308.3 L684.2,307.4 L685.0,306.6 L685.9,305.7 L686.7,304.9 L687.4,304.1 L688.2,303.4 L688.8,302.6 L689.4,301.9 L690.0,301.2 L690.5,300.6 L691.0,299.9 L691.4,299.3 L691.8,298.7 L692.2,298.2 L692.5,297.6 L692.7,297.1 L692.9,296.7 L693.1,296.2 L693.2,295.8 L693.3,295.4 L693.3,295.0 L692.8,294.8 L692.7,294.6 L692.6,294.3 L692.5,293.9 L692.4,293.5 L692.2,293.0 L692.0,292.5 L691.7,292.0 L691.4,291.4 L691.1,290.8 L690.7,290.2 L690.3,289.5 L689.9,288.9 L689.4,288.2 L688.8,287.5 L688.3,286.8 L687.6,286.2 L687.0,285.5 L686.2,284.8 L685.5,284.2 L684.6,283.5 L683.7,282.9 L682.8,282.3 L681.8,281.7 L680.8,281.1 L679.7,280.5 L678.5,279.9 L677.3,279.4 L676.0,278.9 L674.7,278.4 L673.4,277.9 L671.9,277.5 L670.5,277.0 L668.9,276.6 L667.4,276.2 L665.8,275.8 L664.1,275.5 L662.4,275.1 L660.7,274.8 L659.0,274.5 L657.2,274.2 L655.4,273.9 L653.5,273.6 L651.7,273.3 L649.8,273.0 L647.9,272.7 L646.0,272.4 L644.1,272.1 L642.1,271.9 L640.1,271.6 L638.1,271.3 L636.1,271.1 L634.1,270.9 L632.0,270.6 L629.9,270.4 L627.8,270.2 L625.7,270.0 L623.6,269.7 L621.4,269.5 L619.2,269.3 L617.1,269.2 L614.8,269.0 L612.6,268.8 L610.3,268.6 L608.1,268.5 L605.8,268.3 L603.5,268.2 L601.1,268.0 L598.8,267.9 L596.4,267.7 L594.0,267.6 L591.6,267.5 L589.2,267.3 L586.7,267.2 L584.3,267.1 L581.8,267.0 L579.3,266.9 L576.7,266.8 L574.2,266.7 L571.6,266.6 L569.0,266.5 L566.4,266.3 L563.7,266.2 L561.1,266.1 L558.4,266.0 L555.7,265.9 L553.0,265.9 L550.2,265.8 L547.5,265.7 L544.7,265.6 L541.9,265.5 L539.1,265.4 L536.2,265.3 L533.4,265.2 L530.5,265.1 L527.6,265.1 L524.7,265.0 L521.7,264.9 L518.8,264.8 L515.8,264.7 L512.8,264.7 L509.8,264.6 L506.7,264.5 L503.7,264.4 L500.6,264.4 L497.5,264.3 L494.4,264.2 L491.3,264.2 L488.1,264.1 L485.0,264.1 L481.8,264.0 L478.6,263.9 L475.4,263.9 L472.1,263.8 L468.9,263.8 L465.6,263.7 L462.3,263.7 L459.0,263.6 L455.7,263.6 L452.3,263.5 L449.0,263.5 L445.6,263.5 L442.2,263.4 L438.8,263.4 L435.4,263.3 L431.9,263.3 L428.5,263.3 L425.0,263.2 L421.5,263.2 L418.0,263.2 L414.5,263.1 L410.9,263.1 L407.4,263.1 L403.8,263.0 L400.2,263.0 L396.6,263.0 L393.0,263.0 L389.4,262.9 L385.8,262.9 L382.1,262.9 L378.4,262.9 L374.8,262.8 L371.1,262.8 L367.3,262.8 L363.6,262.8 L359.9,262.7 L356.1,262.7 L352.4,262.7 L348.6,262.7 L344.8,262.6 L341.0,262.6 L337.2,262.6 L333.4,262.6 L329.5,262.5 L325.7,262.5 L321.8,262.5 L317.9,262.5 L314.0,262.4 L310.2,262.4" stroke-dasharray="12 5.4 2.2 4.7 2.2 5.4" stroke-dashoffset="24.3"/>
<path d="M677.6,323.1 L679.3,323.4 L681.1,323.6 L682.8,323.8 L684.6,324.1 L686.3,324.3 L688.1,324.5 L689.8,324.7 L691.6,324.8 L693.3,324.9 L693.2,325.0 L692.9,324.9 L692.6,324.9 L692.2,324.8 L691.8,324.7 L691.2,324.6 L690.7,324.5 L690.1,324.4 L689.4,324.3 L688.7,324.1 L687.9,324.0 L687.1,323.8 L686.3,323.6 L685.4,323.5 L684.5,323.3 L683.6,323.1 L682.6,322.8 L681.6,322.6 L680.5,322.4 L679.4,322.1 L678.3,321.9 L677.2,321.6 L676.0,321.3 L674.8,321.0 L673.6,320.7 L672.3,320.4 L671.0,320.1 L669.7,319.7 L668.3,319.4 L666.9,319.0 L665.5,318.6 L664.1,318.2 L662.7,317.8 L661.2,317.4 L659.7,317.0 L658.2,316.6 L656.6,316.1 L655.0,315.7 L653.4,315.2 L651.8,314.7 L650.1,314.2 L648.5,313.7 L646.8,313.2 L645.1,312.7 L643.3,312.2 L641.6,311.6 L639.8,311.1 L638.0,310.5 L636.1,309.9 L634.3,309.3 L632.4,308.8 L630.5,308.2 L628.6,307.6 L626.7,306.9 L624.7,306.3 L622.7,305.7 L620.7,305.1 L618.7,304.4 L616.7,303.8 L614.6,303.1 L612.5,302.5 L610.4,301.8 L608.3,301.2 L606.1,300.5 L603.9,299.9 L601.7,299.2 L599.5,298.6 L597.3,297.9 L595.0,297.3 L592.7,296.6 L590.4,296.0 L588.1,295.4 L585.7,294.7 L583.3,294.1 L580.9,293.5 L578.5,292.9 L576.1,292.3 L573.6,291.7 L571.1,291.1 L568.6,290.6 L566.1,290.0 L563.5,289.4 L560.9,288.9 L558.3,288.3 L555.7,287.8 L553.0,287.3 L550.4,286.8 L547.7,286.2 L545.0,285.7 L542.2,285.2 L539.5,284.7 L536.7,284.2 L533.9,283.7 L531.1,283.3 L528.3,282.8 L525.4,282.3 L522.6,281.8 L519.7,281.4 L516.8,280.9 L513.8,280.5 L510.9,280.0 L507.9,279.6 L504.9,279.1 L501.9,278.7 L498.9,278.3 L495.8,277.9 L492.8,277.4 L489.7,277.0 L486.6,276.6 L483.5,276.2 L480.4,275.8 L477.2,275.4 L474.0,275.1 L470.8,274.7 L467.6,274.3 L464.4,273.9 L461.2,273.6 L457.9,273.2 L454.6,272.9 L451.3,272.5 L448.0,272.2 L444.7,271.8 L441.4,271.5 L438.0,271.2 L434.6,270.8 L431.2,270.5 L427.8,270.2 L424.4,269.9 L420.9,269.6 L417.4,269.3 L414.0,269.0 L410.5,268.7 L407.0,268.4 L403.4,268.1 L399.9,267.8 L396.3,267.5 L392.7,267.3 L389.1,267.0 L385.5,266.7 L381.9,266.5 L378.2,266.2 L374.6,265.9 L370.9,265.7 L367.2,265.4 L363.5,265.2 L359.8,265.0 L356.1,264.7 L352.3,264.5 L348.6,264.3 L344.8,264.1 L341.0,263.9 L337.2,263.7 L333.4,263.4 L329.5,263.3 L325.7,263.1 L321.8,262.9 L317.9,262.7 L314.0,262.5 L310.1,262.3" stroke-dasharray="12 5.4 2.2 4.7 2.2 5.4"/>
</g>
<g stroke="#33ff33">
<path d="M659.9,157.6 L660.1,157.8 L660.3,158.0 L660.5,158.2 L660.7,158.4 L660.8,158.6 L661.0,158.9 L661.1,159.1 L661.3,159.4 L661.4,159.6 L661.5,159.9 L661.6,160.2 L661.8,160.5 L661.8,160.8 L661.9,161.1 L662.0,161.4 L662.1,161.7 L662.1,162.0 L662.2,162.4 L662.2,162.7 L662.3,163.1 L662.3,163.4 L662.3,163.8 L662.3,164.2 L662.1,164.6 L662.1,164.8 L662.1,165.1 L662.0,165.5 L662.0,165.9 L661.9,166.4 L661.8,166.9 L661.6,167.4 L661.4,168.0 L661.2,168.6 L660.9,169.3 L660.6,170.0 L660.3,170.7 L659.9,171.4 L659.4,172.2 L658.9,173.0 L658.4,173.8 L657.8,174.6 L657.2,175.4 L656.5,176.2 L655.8,177.1 L655.0,178.0 L654.2,178.9 L653.4,179.7 L652.5,180.6 L651.6,181.5 L650.7,182.5 L649.8,183.4 L648.8,184.3 L647.8,185.2 L646.7,186.1 L645.6,187.0 L644.5,187.9 L643.3,188.9 L642.1,189.8 L640.9,190.7 L639.6,191.6 L638.3,192.5 L637.0,193.4 L635.6,194.3 L634.2,195.2 L632.8,196.0 L631.3,196.9 L629.8,197.8 L628.3,198.6 L626.7,199.5 L625.1,200.3 L623.4,201.2 L621.8,202.0 L620.1,202.8 L618.3,203.6 L616.6,204.5 L614.8,205.3 L612.9,206.1 L611.1,206.9 L609.2,207.7 L607.3,208.5 L605.4,209.3 L603.4,210.0 L601.4,210.8 L599.4,211.6 L597.4,212.4 L595.4,213.2 L593.3,214.0 L591.2,214.8 L589.1,215.5 L587.0,216.3 L584.8,217.1 L582.7,217.9 L580.5,218.7 L578.2,219.4 L576.0,220.2 L573.7,221.0 L571.5,221.8 L569.2,222.5 L566.9,223.3 L564.5,224.1 L562.2,224.8 L559.8,225.6 L557.4,226.3 L555.0,227.1 L552.5,227.8 L550.1,228.6 L547.6,229.3 L545.1,230.0 L542.5,230.8 L540.0,231.5 L537.4,232.2 L534.9,232.9 L532.3,233.6 L529.6,234.3 L527.0,235.0 L524.3,235.7 L521.7,236.4 L519.0,237.1 L516.2,237.7 L513.5,238.4 L510.7,239.1 L508.0,239.7 L505.2,240.4 L502.4,241.0 L499.5,241.6 L496.7,242.2 L493.8,242.9 L490.9,243.5 L488.0,244.1 L485.1,244.7 L482.1,245.2 L479.2,245.8 L476.2,246.4 L473.2,246.9 L470.1,247.5 L467.1,248.0 L464.0,248.6 L461.0,249.1 L457.9,249.6 L454.8,250.1 L451.6,250.6 L448.5,251.1 L445.3,251.6 L442.1,252.0 L438.9,252.5 L435.7,252.9 L432.5,253.4 L429.2,253.8 L425.9,254.2 L422.6,254.6 L419.3,255.0 L416.0,255.4 L412.7,255.8 L409.3,256.2 L405.9,256.5 L402.5,256.9 L399.1,257.2 L395.7,257.5 L392.2,257.8 L388.8,258.2 L385.3,258.5 L381.8,258.7 L378.3,259.0 L374.7,259.3 L371.2,259.5 L367.6,259.8 L364.0,260.0 L360.4,260.2 L356.8,260.5 L353.2,260.7 L349.5,260.8 L345.9,261.0 L342.2,261.2 L338.5,261.4 L334.8,261.5 L331.1,261.6 L327.3,261.8 L323.6,261.9 L319.8,262.0 L316.0,262.1 L312.2,262.2"/>
<path d="M659.9,255.7 L660.5,255.8 L661.1,255.9 L661.5,256.0 L661.9,256.1 L662.1,256.3 L662.3,256.4 L662.3,256.5 L653.3,256.8 L644.2,257.1 L635.2,257.4 L626.2,257.7 L617.1,258.0 L608.1,258.3 L599.0,258.5 L590.0,258.8 L581.0,259.0 L571.9,259.3 L562.9,259.5 L553.9,259.7 L544.8,259.9 L535.8,260.1 L526.8,260.3 L517.7,260.5 L508.7,260.6 L499.7,260.8 L490.6,260.9 L481.6,261.1 L472.5,261.2 L463.5,261.4 L454.5,261.5 L445.4,261.6 L436.4,261.7 L427.4,261.8 L418.3,261.9 L409.3,262.0 L400.3,262.0 L391.2,262.1 L382.2,262.2 L373.2,262.2 L364.1,262.3 L355.1,262.3 L346.0,262.3 L337.0,262.4 L328.0,262.4 L318.9,262.4 L309.9,262.4"/>
<path d="M659.6,298.6 L659.8,298.3 L660.0,297.9 L660.3,297.6 L660.5,297.3 L660.6,297.0 L660.8,296.7 L661.0,296.4 L661.2,296.1 L661.3,295.9 L661.4,295.6 L661.6,295.4 L661.7,295.1 L661.8,294.9 L661.9,294.7 L662.0,294.5 L662.0,294.2 L662.1,294.1 L662.2,293.9 L662.2,293.7 L662.3,293.5 L662.3,293.4 L662.3,293.2 L662.3,293.1 L662.1,292.9 L662.0,292.7 L662.0,292.4 L662.0,292.0 L661.9,291.6 L661.8,291.1 L661.7,290.5 L661.6,289.9 L661.4,289.3 L661.2,288.7 L660.9,288.0 L660.7,287.2 L660.3,286.5 L659.9,285.7 L659.5,284.9 L659.1,284.1 L658.5,283.4 L658.0,282.6 L657.4,281.8 L656.7,281.0 L656.0,280.3 L655.2,279.6 L654.4,278.9 L653.5,278.2 L652.6,277.6 L651.7,277.0 L650.6,276.4 L649.6,275.9 L648.5,275.4 L647.3,275.0 L646.1,274.5 L644.8,274.1 L643.5,273.8 L642.1,273.5 L640.7,273.2 L639.2,272.9 L637.7,272.6 L636.2,272.4 L634.6,272.2 L633.0,272.0 L631.4,271.8 L629.7,271.6 L628.0,271.5 L626.3,271.3 L624.6,271.1 L622.9,270.9 L621.1,270.7 L619.3,270.6 L617.5,270.4 L615.6,270.2 L613.8,270.0 L611.9,269.9 L610.0,269.7 L608.1,269.5 L606.1,269.3 L604.1,269.2 L602.2,269.0 L600.1,268.8 L598.1,268.7 L596.1,268.5 L594.0,268.3 L591.9,268.2 L589.8,268.0 L587.7,267.9 L585.5,267.7 L583.4,267.6 L581.2,267.4 L579.0,267.3 L576.8,267.1 L574.5,267.0 L572.3,266.8 L570.0,266.7 L567.7,266.6 L565.4,266.4 L563.0,266.3 L560.7,266.2 L558.3,266.0 L555.9,265.9 L553.5,265.8 L551.1,265.7 L548.7,265.6 L546.2,265.5 L543.7,265.4 L541.2,265.3 L538.7,265.2 L536.2,265.1 L533.7,265.0 L531.1,264.9 L528.5,264.8 L525.9,264.7 L523.3,264.6 L520.7,264.5 L518.1,264.5 L515.4,264.4 L512.7,264.3 L510.0,264.2 L507.3,264.2 L504.6,264.1 L501.8,264.1 L499.1,264.0 L496.3,263.9 L493.5,263.9 L490.7,263.8 L487.9,263.8 L485.0,263.8 L482.2,263.7 L479.3,263.7 L476.4,263.6 L473.5,263.6 L470.6,263.6 L467.7,263.5 L464.7,263.5 L461.8,263.5 L458.8,263.5 L455.8,263.4 L452.8,263.4 L449.7,263.4 L446.7,263.4 L443.6,263.4 L440.6,263.4 L437.5,263.3 L434.4,263.3 L431.2,263.3 L428.1,263.3 L424.9,263.3 L421.8,263.3 L418.6,263.3 L415.4,263.3 L412.2,263.3 L408.9,263.3 L405.7,263.3 L402.4,263.3 L399.1,263.2 L395.9,263.2 L392.5,263.2 L389.2,263.2 L385.9,263.2 L382.5,263.2 L379.2,263.2 L375.8,263.2 L372.4,263.1 L368.9,263.1 L365.5,263.1 L362.1,263.1 L358.6,263.1 L355.1,263.0 L351.6,263.0 L348.1,263.0 L344.6,262.9 L341.0,262.9 L337.5,262.8 L333.9,262.8 L330.3,262.7 L326.7,262.7 L323.1,262.6 L319.4,262.5 L315.8,262.4 L312.1,262.4"/>
<path d="M659.9,324.4 L660.2,324.4 L660.4,324.5 L660.7,324.6 L661.0,324.7 L661.2,324.7 L661.5,324.8 L661.8,324.9 L662.0,325.0 L662.3,325.3 L662.3,325.0 L662.1,325.0 L661.8,324.9 L661.5,324.7 L661.1,324.6 L660.6,324.4 L660.1,324.2 L659.6,324.0 L659.0,323.8 L658.3,323.6 L657.7,323.4 L657.0,323.1 L656.2,322.8 L655.4,322.5 L654.6,322.3 L653.8,322.0 L652.9,321.6 L652.0,321.3 L651.0,321.0 L650.1,320.6 L649.1,320.3 L648.0,319.9 L647.0,319.6 L645.9,319.2 L644.8,318.8 L643.6,318.4 L642.4,318.0 L641.2,317.6 L640.0,317.2 L638.8,316.8 L637.5,316.3 L636.2,315.9 L634.8,315.5 L633.5,315.0 L632.1,314.6 L630.7,314.1 L629.3,313.6 L627.8,313.2 L626.3,312.7 L624.8,312.2 L623.3,311.7 L621.8,311.3 L620.2,310.8 L618.6,310.3 L617.0,309.8 L615.3,309.3 L613.7,308.8 L612.0,308.3 L610.3,307.7 L608.6,307.2 L606.8,306.7 L605.0,306.2 L603.2,305.7 L601.4,305.2 L599.6,304.6 L597.7,304.1 L595.9,303.6 L594.0,303.0 L592.0,302.5 L590.1,302.0 L588.1,301.4 L586.2,300.9 L584.2,300.4 L582.1,299.8 L580.1,299.3 L578.0,298.8 L575.9,298.2 L573.8,297.7 L571.7,297.1 L569.6,296.6 L567.4,296.1 L565.2,295.5 L563.0,295.0 L560.8,294.5 L558.6,293.9 L556.3,293.4 L554.0,292.8 L551.7,292.3 L549.4,291.8 L547.1,291.3 L544.7,290.7 L542.4,290.2 L540.0,289.7 L537.6,289.2 L535.1,288.6 L532.7,288.1 L530.2,287.6 L527.7,287.1 L525.2,286.6 L522.7,286.1 L520.2,285.6 L517.6,285.1 L515.0,284.6 L512.4,284.1 L509.8,283.6 L507.2,283.1 L504.6,282.6 L501.9,282.1 L499.2,281.6 L496.5,281.2 L493.8,280.7 L491.1,280.2 L488.3,279.7 L485.5,279.3 L482.7,278.8 L479.9,278.4 L477.1,277.9 L474.3,277.5 L471.4,277.0 L468.6,276.6 L465.7,276.2 L462.8,275.8 L459.8,275.3 L456.9,274.9 L453.9,274.5 L451.0,274.1 L448.0,273.7 L445.0,273.3 L442.0,272.9 L438.9,272.5 L435.9,272.2 L432.8,271.8 L429.7,271.4 L426.6,271.1 L423.5,270.7 L420.4,270.4 L417.2,270.0 L414.0,269.7 L410.9,269.3 L407.7,269.0 L404.5,268.7 L401.2,268.4 L398.0,268.1 L394.7,267.8 L391.4,267.5 L388.2,267.2 L384.9,266.9 L381.5,266.6 L378.2,266.4 L374.9,266.1 L371.5,265.8 L368.1,265.6 L364.7,265.4 L361.3,265.1 L357.9,264.9 L354.4,264.7 L351.0,264.5 L347.5,264.2 L344.1,264.0 L340.6,263.8 L337.1,263.7 L333.5,263.5 L330.0,263.3 L326.4,263.1 L322.9,263.0 L319.3,262.8 L315.7,262.7 L312.1,262.5"/>
<path d="M683.7,154.1 L684.2,154.4 L684.7,154.6 L685.1,154.9 L685.5,155.2 L685.9,155.5 L686.3,155.8 L686.7,156.1 L687.0,156.5 L687.4,156.8 L687.6,157.2 L687.9,157.6 L688.2,158.0 L688.4,158.4 L688.6,158.8 L688.8,159.2 L689.0,159.6 L689.1,160.1 L689.2,160.5 L689.3,161.0 L689.4,161.5 L689.5,162.0 L689.5,162.5 L689.5,163.0 L689.3,163.4 L689.3,163.6 L689.3,163.9 L689.2,164.3 L689.1,164.7 L689.0,165.2 L688.9,165.7 L688.8,166.3 L688.6,166.9 L688.3,167.5 L688.0,168.1 L687.7,168.8 L687.3,169.6 L686.9,170.3 L686.4,171.1 L685.9,171.9 L685.3,172.7 L684.7,173.5 L684.0,174.3 L683.2,175.2 L682.5,176.1 L681.7,176.9 L680.8,177.8 L679.9,178.7 L679.0,179.6 L678.0,180.6 L677.1,181.5 L676.0,182.4 L675.0,183.3 L673.9,184.2 L672.7,185.2 L671.6,186.1 L670.3,187.0 L669.1,188.0 L667.8,188.9 L666.5,189.8 L665.1,190.7 L663.7,191.6 L662.3,192.5 L660.8,193.4 L659.3,194.3 L657.8,195.2 L656.2,196.1 L654.6,197.0 L652.9,197.9 L651.2,198.7 L649.5,199.6 L647.7,200.4 L645.9,201.3 L644.1,202.1 L642.3,202.9 L640.4,203.8 L638.4,204.6 L636.5,205.4 L634.5,206.2 L632.5,207.0 L630.4,207.8 L628.3,208.6 L626.2,209.4 L624.1,210.2 L622.0,211.0 L619.8,211.8 L617.6,212.6 L615.4,213.4 L613.1,214.2 L610.8,215.0 L608.6,215.8 L606.2,216.6 L603.9,217.3 L601.6,218.1 L599.2,218.9 L596.8,219.7 L594.3,220.5 L591.9,221.3 L589.4,222.0 L586.9,222.8 L584.4,223.6 L581.9,224.4 L579.3,225.1 L576.7,225.9 L574.1,226.7 L571.5,227.4 L568.9,228.2 L566.2,228.9 L563.5,229.6 L560.8,230.4 L558.1,231.1 L555.3,231.8 L552.6,232.6 L549.8,233.3 L546.9,234.0 L544.1,234.7 L541.2,235.4 L538.4,236.1 L535.5,236.8 L532.5,237.4 L529.6,238.1 L526.6,238.8 L523.7,239.4 L520.7,240.1 L517.6,240.7 L514.6,241.4 L511.5,242.0 L508.4,242.6 L505.3,243.2 L502.2,243.8 L499.1,244.4 L495.9,245.0 L492.7,245.6 L489.5,246.2 L486.3,246.7 L483.0,247.3 L479.7,247.8 L476.5,248.4 L473.2,248.9 L469.8,249.4 L466.5,249.9 L463.1,250.4 L459.7,250.9 L456.3,251.4 L452.9,251.9 L449.5,252.4 L446.0,252.8 L442.5,253.3 L439.0,253.7 L435.5,254.1 L432.0,254.5 L428.4,254.9 L424.8,255.3 L421.2,255.7 L417.6,256.1 L414.0,256.4 L410.3,256.8 L406.7,257.1 L403.0,257.5 L399.3,257.8 L395.5,258.1 L391.8,258.4 L388.0,258.7 L384.3,259.0 L380.5,259.2 L376.7,259.5 L372.8,259.7 L369.0,260.0 L365.1,260.2 L361.2,260.4 L357.3,260.6 L353.4,260.8 L349.5,261.0 L345.5,261.2 L341.6,261.3 L337.6,261.5 L333.6,261.6 L329.6,261.8 L325.5,261.9 L321.5,262.0 L317.4,262.1 L313.3,262.2" stroke-dasharray="7 11.3"/>
<path d="M683.7,254.7 L685.2,254.8 L686.5,254.9 L687.6,255.0 L688.4,255.1 L689.0,255.3 L689.4,255.4 L689.5,255.6 L679.8,255.9 L670.0,256.3 L660.3,256.6 L650.6,257.0 L640.8,257.3 L631.1,257.6 L621.4,257.9 L611.6,258.2 L601.9,258.5 L592.2,258.8 L582.4,259.0 L572.7,259.3 L563.0,259.5 L553.2,259.7 L543.5,259.9 L533.8,260.2 L524.0,260.4 L514.3,260.5 L504.6,260.7 L494.8,260.9 L485.1,261.1 L475.4,261.2 L465.6,261.3 L455.9,261.5 L446.2,261.6 L436.4,261.7 L426.7,261.8 L417.0,261.9 L407.2,262.0 L397.5,262.1 L387.8,262.1 L378.0,262.2 L368.3,262.2 L358.6,262.3 L348.8,262.3 L339.1,262.4 L329.4,262.4 L319.6,262.4 L309.9,262.4" stroke-dasharray="7 11.3"/>
<path d="M685.0,298.5 L685.4,298.2 L685.7,297.8 L686.1,297.5 L686.4,297.2 L686.7,296.9 L687.0,296.6 L687.3,296.3 L687.6,296.1 L687.8,295.8 L688.1,295.6 L688.3,295.3 L688.5,295.1 L688.6,294.9 L688.8,294.6 L689.0,294.4 L689.1,294.2 L689.2,294.0 L689.3,293.9 L689.4,293.7 L689.4,293.5 L689.5,293.4 L689.5,293.2 L689.5,293.1 L689.2,292.9 L689.2,292.7 L689.2,292.4 L689.1,292.0 L689.1,291.6 L689.0,291.1 L688.9,290.5 L688.7,289.9 L688.5,289.3 L688.3,288.7 L688.0,288.0 L687.7,287.2 L687.4,286.5 L687.0,285.7 L686.5,284.9 L686.0,284.1 L685.5,283.4 L684.8,282.6 L684.2,281.8 L683.5,281.0 L682.7,280.3 L681.9,279.6 L681.0,278.9 L680.1,278.2 L679.1,277.6 L678.1,277.0 L677.0,276.4 L675.8,275.9 L674.6,275.4 L673.4,275.0 L672.0,274.5 L670.7,274.1 L669.3,273.8 L667.8,273.5 L666.3,273.2 L664.7,272.9 L663.1,272.6 L661.4,272.4 L659.8,272.2 L658.0,272.0 L656.3,271.8 L654.5,271.6 L652.7,271.5 L650.9,271.3 L649.0,271.1 L647.1,270.9 L645.2,270.7 L643.3,270.6 L641.3,270.4 L639.3,270.2 L637.3,270.0 L635.3,269.9 L633.3,269.7 L631.2,269.5 L629.1,269.3 L627.0,269.2 L624.9,269.0 L622.7,268.8 L620.5,268.7 L618.3,268.5 L616.1,268.3 L613.9,268.2 L611.6,268.0 L609.3,267.9 L607.0,267.7 L604.7,267.6 L602.3,267.4 L600.0,267.3 L597.6,267.1 L595.2,267.0 L592.7,266.8 L590.3,266.7 L587.8,266.6 L585.3,266.4 L582.8,266.3 L580.3,266.2 L577.8,266.0 L575.2,265.9 L572.6,265.8 L570.0,265.7 L567.4,265.6 L564.7,265.5 L562.1,265.4 L559.4,265.3 L556.7,265.2 L554.0,265.1 L551.3,265.0 L548.5,264.9 L545.7,264.8 L543.0,264.7 L540.2,264.6 L537.3,264.5 L534.5,264.5 L531.6,264.4 L528.8,264.3 L525.9,264.2 L522.9,264.2 L520.0,264.1 L517.1,264.1 L514.1,264.0 L511.1,263.9 L508.1,263.9 L505.1,263.8 L502.1,263.8 L499.0,263.8 L496.0,263.7 L492.9,263.7 L489.8,263.6 L486.6,263.6 L483.5,263.6 L480.4,263.5 L477.2,263.5 L474.0,263.5 L470.8,263.5 L467.6,263.4 L464.3,263.4 L461.1,263.4 L457.8,263.4 L454.5,263.4 L451.2,263.4 L447.9,263.3 L444.5,263.3 L441.2,263.3 L437.8,263.3 L434.4,263.3 L431.0,263.3 L427.6,263.3 L424.2,263.3 L420.7,263.3 L417.2,263.3 L413.7,263.3 L410.2,263.3 L406.7,263.2 L403.2,263.2 L399.6,263.2 L396.1,263.2 L392.5,263.2 L388.9,263.2 L385.2,263.2 L381.6,263.2 L377.9,263.1 L374.3,263.1 L370.6,263.1 L366.9,263.1 L363.1,263.1 L359.4,263.0 L355.6,263.0 L351.9,263.0 L348.1,262.9 L344.3,262.9 L340.4,262.8 L336.6,262.8 L332.7,262.7 L328.9,262.7 L325.0,262.6 L321.1,262.5 L317.1,262.4 L313.2,262.4" stroke-dasharray="7 11.3" stroke-dashoffset="2.5"/>
<path d="M683.7,324.7 L684.3,324.9 L685.0,325.1 L685.6,325.2 L686.3,325.4 L686.9,325.6 L687.6,325.7 L688.2,325.9 L688.9,326.1 L689.5,326.5 L689.5,326.2 L689.3,326.2 L689.0,326.1 L688.6,325.9 L688.2,325.8 L687.7,325.6 L687.2,325.4 L686.6,325.2 L685.9,325.0 L685.3,324.8 L684.5,324.5 L683.8,324.3 L683.0,324.0 L682.1,323.7 L681.3,323.4 L680.3,323.1 L679.4,322.8 L678.4,322.4 L677.4,322.1 L676.4,321.8 L675.3,321.4 L674.2,321.0 L673.0,320.6 L671.9,320.3 L670.7,319.9 L669.4,319.5 L668.2,319.1 L666.9,318.6 L665.5,318.2 L664.2,317.8 L662.8,317.4 L661.4,316.9 L660.0,316.5 L658.5,316.0 L657.1,315.5 L655.5,315.1 L654.0,314.6 L652.4,314.1 L650.9,313.6 L649.2,313.2 L647.6,312.7 L645.9,312.2 L644.3,311.7 L642.5,311.2 L640.8,310.7 L639.0,310.1 L637.3,309.6 L635.4,309.1 L633.6,308.6 L631.8,308.1 L629.9,307.5 L628.0,307.0 L626.0,306.5 L624.1,305.9 L622.1,305.4 L620.1,304.9 L618.1,304.3 L616.1,303.8 L614.0,303.2 L611.9,302.7 L609.8,302.1 L607.7,301.6 L605.5,301.0 L603.4,300.5 L601.2,299.9 L598.9,299.4 L596.7,298.8 L594.4,298.2 L592.2,297.7 L589.9,297.1 L587.5,296.6 L585.2,296.0 L582.8,295.5 L580.4,294.9 L578.0,294.3 L575.6,293.8 L573.2,293.2 L570.7,292.7 L568.2,292.1 L565.7,291.6 L563.2,291.0 L560.6,290.5 L558.0,289.9 L555.5,289.4 L552.8,288.8 L550.2,288.3 L547.6,287.7 L544.9,287.2 L542.2,286.7 L539.5,286.1 L536.8,285.6 L534.0,285.1 L531.2,284.5 L528.5,284.0 L525.7,283.5 L522.8,283.0 L520.0,282.5 L517.1,282.0 L514.2,281.5 L511.3,281.0 L508.4,280.5 L505.5,280.0 L502.5,279.6 L499.5,279.1 L496.6,278.6 L493.5,278.2 L490.5,277.7 L487.5,277.3 L484.4,276.8 L481.3,276.4 L478.2,276.0 L475.1,275.6 L471.9,275.1 L468.8,274.7 L465.6,274.3 L462.4,273.9 L459.2,273.6 L456.0,273.2 L452.7,272.8 L449.5,272.4 L446.2,272.1 L442.9,271.7 L439.6,271.3 L436.2,271.0 L432.9,270.6 L429.5,270.3 L426.1,270.0 L422.7,269.7 L419.3,269.3 L415.9,269.0 L412.4,268.7 L408.9,268.4 L405.5,268.1 L402.0,267.8 L398.4,267.5 L394.9,267.2 L391.4,266.9 L387.8,266.7 L384.2,266.4 L380.6,266.1 L377.0,265.9 L373.4,265.6 L369.7,265.4 L366.1,265.2 L362.4,264.9 L358.7,264.7 L355.0,264.5 L351.3,264.3 L347.5,264.1 L343.8,263.9 L340.0,263.7 L336.2,263.5 L332.4,263.3 L328.6,263.2 L324.8,263.0 L320.9,262.8 L317.1,262.7 L313.2,262.5" stroke-dasharray="7 11.3"/>
<path d="M686.2,146.0 L687.4,146.3 L688.6,146.7 L689.7,147.1 L690.8,147.5 L691.8,147.9 L692.7,148.3 L693.6,148.8 L694.5,149.2 L695.3,149.7 L696.0,150.2 L696.7,150.7 L697.3,151.2 L697.9,151.8 L698.4,152.3 L698.9,152.9 L699.3,153.5 L699.6,154.1 L699.9,154.7 L700.2,155.3 L700.4,156.0 L700.5,156.6 L700.6,157.3 L700.6,158.0 L700.4,158.4 L700.4,158.7 L700.3,159.0 L700.3,159.4 L700.2,159.8 L700.1,160.3 L700.0,160.8 L699.8,161.4 L699.6,162.0 L699.4,162.7 L699.1,163.4 L698.8,164.1 L698.4,164.9 L697.9,165.7 L697.4,166.5 L696.9,167.3 L696.3,168.2 L695.6,169.0 L694.9,169.9 L694.2,170.8 L693.4,171.7 L692.5,172.6 L691.7,173.6 L690.7,174.5 L689.8,175.5 L688.8,176.4 L687.8,177.4 L686.7,178.4 L685.7,179.3 L684.5,180.3 L683.4,181.3 L682.1,182.3 L680.9,183.2 L679.6,184.2 L678.3,185.2 L676.9,186.1 L675.5,187.1 L674.1,188.1 L672.6,189.0 L671.1,190.0 L669.6,190.9 L668.0,191.8 L666.4,192.8 L664.7,193.7 L663.0,194.6 L661.2,195.5 L659.5,196.4 L657.7,197.3 L655.8,198.2 L653.9,199.1 L652.0,199.9 L650.1,200.8 L648.1,201.7 L646.1,202.5 L644.0,203.4 L641.9,204.2 L639.8,205.1 L637.7,205.9 L635.5,206.7 L633.3,207.6 L631.1,208.4 L628.9,209.2 L626.6,210.1 L624.4,210.9 L622.0,211.7 L619.7,212.6 L617.4,213.4 L615.0,214.2 L612.6,215.1 L610.2,215.9 L607.7,216.7 L605.2,217.6 L602.7,218.4 L600.2,219.2 L597.7,220.0 L595.1,220.8 L592.5,221.6 L589.9,222.5 L587.3,223.3 L584.7,224.1 L582.0,224.9 L579.3,225.6 L576.6,226.4 L573.8,227.2 L571.1,228.0 L568.3,228.8 L565.5,229.5 L562.6,230.3 L559.8,231.1 L556.9,231.8 L554.0,232.6 L551.1,233.3 L548.1,234.0 L545.2,234.8 L542.2,235.5 L539.2,236.2 L536.2,236.9 L533.1,237.6 L530.1,238.3 L527.0,239.0 L523.9,239.6 L520.7,240.3 L517.6,241.0 L514.4,241.6 L511.2,242.3 L508.0,242.9 L504.8,243.5 L501.5,244.1 L498.2,244.8 L494.9,245.4 L491.6,246.0 L488.3,246.5 L484.9,247.1 L481.5,247.7 L478.1,248.2 L474.7,248.8 L471.3,249.3 L467.8,249.8 L464.3,250.4 L460.8,250.9 L457.3,251.4 L453.8,251.9 L450.2,252.3 L446.6,252.8 L443.0,253.2 L439.4,253.7 L435.8,254.1 L432.1,254.6 L428.4,255.0 L424.7,255.4 L421.0,255.8 L417.3,256.1 L413.5,256.5 L409.8,256.9 L406.0,257.2 L402.1,257.6 L398.3,257.9 L394.5,258.2 L390.6,258.5 L386.7,258.8 L382.8,259.1 L378.9,259.4 L375.0,259.6 L371.0,259.9 L367.0,260.1 L363.0,260.3 L359.0,260.5 L355.0,260.7 L350.9,260.9 L346.9,261.1 L342.8,261.3 L338.7,261.4 L334.6,261.6 L330.5,261.7 L326.3,261.9 L322.1,262.0 L318.0,262.1 L313.8,262.2" stroke-dasharray="11 5.6 2.4 5.5" stroke-dashoffset="1"/>
<path d="M686.2,254.7 L690.0,254.7 L693.3,254.7 L695.9,254.8 L698.0,254.9 L699.4,255.0 L700.3,255.1 L700.6,255.3 L690.6,255.7 L680.6,256.0 L670.5,256.4 L660.5,256.7 L650.5,257.1 L640.5,257.4 L630.5,257.7 L620.5,258.0 L610.4,258.3 L600.4,258.6 L590.4,258.9 L580.4,259.1 L570.4,259.4 L560.3,259.6 L550.3,259.8 L540.3,260.1 L530.3,260.3 L520.3,260.5 L510.3,260.7 L500.2,260.8 L490.2,261.0 L480.2,261.2 L470.2,261.3 L460.2,261.4 L450.2,261.6 L440.1,261.7 L430.1,261.8 L420.1,261.9 L410.1,262.0 L400.1,262.1 L390.0,262.1 L380.0,262.2 L370.0,262.2 L360.0,262.3 L350.0,262.3 L340.0,262.4 L329.9,262.4 L319.9,262.4 L309.9,262.4" stroke-dasharray="11 5.6 2.4 5.5"/>
<path d="M690.0,306.0 L690.9,305.2 L691.8,304.5 L692.6,303.7 L693.4,303.0 L694.1,302.4 L694.8,301.7 L695.5,301.0 L696.1,300.4 L696.7,299.8 L697.2,299.2 L697.7,298.7 L698.2,298.1 L698.6,297.6 L699.0,297.1 L699.3,296.6 L699.6,296.2 L699.9,295.8 L700.1,295.3 L700.3,295.0 L700.4,294.6 L700.5,294.2 L700.6,293.9 L700.6,293.6 L700.3,293.4 L700.3,293.2 L700.3,292.8 L700.2,292.5 L700.2,292.0 L700.1,291.5 L699.9,291.0 L699.8,290.4 L699.6,289.8 L699.4,289.1 L699.1,288.4 L698.8,287.6 L698.4,286.9 L698.0,286.1 L697.5,285.3 L697.0,284.5 L696.4,283.7 L695.8,282.9 L695.1,282.1 L694.4,281.3 L693.6,280.6 L692.8,279.8 L691.9,279.1 L690.9,278.5 L689.9,277.8 L688.8,277.2 L687.7,276.7 L686.5,276.1 L685.3,275.6 L684.0,275.2 L682.7,274.7 L681.2,274.3 L679.8,274.0 L678.3,273.6 L676.7,273.3 L675.1,273.1 L673.5,272.8 L671.8,272.6 L670.0,272.4 L668.2,272.2 L666.4,272.0 L664.6,271.8 L662.7,271.6 L660.9,271.4 L658.9,271.2 L657.0,271.1 L655.1,270.9 L653.1,270.7 L651.1,270.5 L649.0,270.3 L647.0,270.2 L644.9,270.0 L642.8,269.8 L640.7,269.6 L638.5,269.4 L636.3,269.3 L634.1,269.1 L631.9,268.9 L629.7,268.8 L627.4,268.6 L625.1,268.4 L622.8,268.3 L620.5,268.1 L618.1,267.9 L615.8,267.8 L613.4,267.6 L611.0,267.5 L608.5,267.3 L606.1,267.2 L603.6,267.0 L601.1,266.9 L598.6,266.8 L596.0,266.6 L593.5,266.5 L590.9,266.4 L588.3,266.2 L585.7,266.1 L583.1,266.0 L580.4,265.9 L577.7,265.7 L575.0,265.6 L572.3,265.5 L569.6,265.4 L566.8,265.3 L564.1,265.2 L561.3,265.1 L558.5,265.0 L555.6,264.9 L552.8,264.8 L549.9,264.7 L547.0,264.6 L544.1,264.6 L541.2,264.5 L538.3,264.4 L535.3,264.3 L532.3,264.3 L529.3,264.2 L526.3,264.1 L523.3,264.1 L520.2,264.0 L517.2,264.0 L514.1,263.9 L511.0,263.9 L507.9,263.8 L504.7,263.8 L501.6,263.7 L498.4,263.7 L495.2,263.7 L492.0,263.6 L488.8,263.6 L485.5,263.6 L482.3,263.5 L479.0,263.5 L475.7,263.5 L472.4,263.5 L469.1,263.4 L465.7,263.4 L462.3,263.4 L459.0,263.4 L455.6,263.4 L452.1,263.4 L448.7,263.4 L445.3,263.3 L441.8,263.3 L438.3,263.3 L434.8,263.3 L431.3,263.3 L427.7,263.3 L424.2,263.3 L420.6,263.3 L417.0,263.3 L413.4,263.3 L409.8,263.3 L406.2,263.3 L402.5,263.2 L398.8,263.2 L395.1,263.2 L391.4,263.2 L387.7,263.2 L384.0,263.2 L380.2,263.2 L376.4,263.1 L372.6,263.1 L368.8,263.1 L365.0,263.1 L361.1,263.0 L357.3,263.0 L353.4,263.0 L349.5,262.9 L345.6,262.9 L341.7,262.8 L337.7,262.8 L333.7,262.7 L329.7,262.7 L325.7,262.6 L321.7,262.5 L317.7,262.4 L313.6,262.4" stroke-dasharray="11 5.6 2.4 5.5" stroke-dashoffset="16.6"/>
<path d="M686.2,326.1 L687.8,326.5 L689.4,326.9 L691.0,327.3 L692.6,327.7 L694.2,328.1 L695.8,328.5 L697.4,329.0 L699.0,329.4 L700.6,330.1 L700.6,329.8 L700.4,329.7 L700.1,329.6 L699.7,329.5 L699.2,329.3 L698.7,329.2 L698.2,329.0 L697.6,328.7 L696.9,328.5 L696.2,328.3 L695.5,328.0 L694.7,327.7 L693.9,327.4 L693.0,327.1 L692.1,326.8 L691.2,326.5 L690.2,326.2 L689.2,325.8 L688.2,325.5 L687.1,325.1 L686.0,324.7 L684.8,324.3 L683.7,323.9 L682.5,323.5 L681.2,323.1 L680.0,322.7 L678.7,322.2 L677.3,321.8 L676.0,321.4 L674.6,320.9 L673.2,320.4 L671.7,320.0 L670.3,319.5 L668.8,319.0 L667.2,318.5 L665.7,318.0 L664.1,317.5 L662.5,317.0 L660.9,316.5 L659.2,316.0 L657.5,315.5 L655.8,315.0 L654.1,314.4 L652.3,313.9 L650.5,313.4 L648.7,312.8 L646.9,312.3 L645.0,311.7 L643.1,311.2 L641.2,310.6 L639.3,310.1 L637.3,309.5 L635.3,308.9 L633.3,308.4 L631.3,307.8 L629.3,307.2 L627.2,306.7 L625.1,306.1 L623.0,305.5 L620.8,304.9 L618.7,304.3 L616.5,303.7 L614.2,303.2 L612.0,302.6 L609.8,302.0 L607.5,301.4 L605.2,300.8 L602.9,300.2 L600.5,299.6 L598.1,299.0 L595.7,298.4 L593.3,297.9 L590.9,297.3 L588.5,296.7 L586.0,296.1 L583.5,295.5 L581.0,294.9 L578.4,294.3 L575.9,293.7 L573.3,293.1 L570.7,292.5 L568.1,292.0 L565.4,291.4 L562.8,290.8 L560.1,290.2 L557.4,289.6 L554.6,289.1 L551.9,288.5 L549.1,287.9 L546.3,287.3 L543.5,286.8 L540.7,286.2 L537.9,285.7 L535.0,285.1 L532.1,284.6 L529.2,284.0 L526.3,283.5 L523.3,283.0 L520.4,282.4 L517.4,281.9 L514.4,281.4 L511.4,280.9 L508.3,280.4 L505.3,279.9 L502.2,279.4 L499.1,278.9 L496.0,278.4 L492.8,278.0 L489.7,277.5 L486.5,277.1 L483.3,276.6 L480.1,276.2 L476.9,275.7 L473.6,275.3 L470.4,274.9 L467.1,274.5 L463.8,274.1 L460.5,273.7 L457.1,273.3 L453.8,272.9 L450.4,272.5 L447.0,272.1 L443.6,271.8 L440.2,271.4 L436.7,271.1 L433.2,270.7 L429.8,270.4 L426.3,270.0 L422.7,269.7 L419.2,269.3 L415.7,269.0 L412.1,268.7 L408.5,268.4 L404.9,268.1 L401.3,267.8 L397.7,267.5 L394.0,267.2 L390.3,266.9 L386.7,266.6 L383.0,266.3 L379.2,266.1 L375.5,265.8 L371.8,265.6 L368.0,265.3 L364.2,265.1 L360.4,264.8 L356.6,264.6 L352.8,264.4 L348.9,264.2 L345.1,264.0 L341.2,263.8 L337.3,263.6 L333.4,263.4 L329.5,263.2 L325.5,263.0 L321.6,262.9 L317.6,262.7 L313.6,262.6" stroke-dasharray="11 5.6 2.4 5.5"/>
<path d="M701.2,143.5 L702.6,143.9 L704.0,144.4 L705.2,144.8 L706.5,145.3 L707.6,145.8 L708.7,146.3 L709.8,146.8 L710.7,147.4 L711.6,148.0 L712.5,148.6 L713.3,149.2 L714.0,149.8 L714.7,150.4 L715.3,151.1 L715.8,151.8 L716.3,152.5 L716.7,153.2 L717.0,154.0 L717.3,154.7 L717.5,155.5 L717.7,156.3 L717.8,157.2 L717.8,158.0 L717.6,158.4 L717.6,158.7 L717.5,159.0 L717.5,159.4 L717.4,159.8 L717.3,160.3 L717.2,160.8 L717.0,161.4 L716.8,162.0 L716.5,162.7 L716.2,163.4 L715.9,164.1 L715.5,164.9 L715.0,165.7 L714.5,166.5 L713.9,167.3 L713.3,168.2 L712.6,169.0 L711.9,169.9 L711.1,170.8 L710.3,171.7 L709.4,172.6 L708.5,173.6 L707.5,174.5 L706.5,175.5 L705.5,176.4 L704.5,177.4 L703.4,178.4 L702.2,179.3 L701.0,180.3 L699.8,181.3 L698.6,182.3 L697.3,183.2 L695.9,184.2 L694.5,185.2 L693.1,186.1 L691.7,187.1 L690.2,188.1 L688.6,189.0 L687.1,190.0 L685.4,190.9 L683.8,191.8 L682.1,192.8 L680.4,193.7 L678.6,194.6 L676.8,195.5 L674.9,196.4 L673.0,197.3 L671.1,198.2 L669.1,199.1 L667.1,199.9 L665.1,200.8 L663.0,201.7 L660.9,202.5 L658.8,203.4 L656.6,204.2 L654.4,205.1 L652.2,205.9 L650.0,206.7 L647.7,207.6 L645.4,208.4 L643.0,209.2 L640.7,210.1 L638.3,210.9 L635.9,211.7 L633.5,212.6 L631.0,213.4 L628.5,214.2 L626.0,215.1 L623.5,215.9 L620.9,216.7 L618.4,217.6 L615.8,218.4 L613.1,219.2 L610.5,220.0 L607.8,220.8 L605.1,221.6 L602.4,222.5 L599.7,223.3 L596.9,224.1 L594.1,224.9 L591.3,225.6 L588.5,226.4 L585.6,227.2 L582.7,228.0 L579.8,228.8 L576.9,229.5 L573.9,230.3 L571.0,231.1 L568.0,231.8 L564.9,232.6 L561.9,233.3 L558.8,234.0 L555.8,234.8 L552.6,235.5 L549.5,236.2 L546.4,236.9 L543.2,237.6 L540.0,238.3 L536.8,239.0 L533.5,239.6 L530.3,240.3 L527.0,241.0 L523.7,241.6 L520.3,242.3 L517.0,242.9 L513.6,243.5 L510.2,244.1 L506.8,244.8 L503.3,245.4 L499.9,246.0 L496.4,246.5 L492.9,247.1 L489.4,247.7 L485.8,248.2 L482.3,248.8 L478.7,249.3 L475.1,249.8 L471.4,250.4 L467.8,250.9 L464.1,251.4 L460.4,251.9 L456.7,252.3 L453.0,252.8 L449.2,253.2 L445.4,253.7 L441.7,254.1 L437.8,254.6 L434.0,255.0 L430.2,255.4 L426.3,255.8 L422.4,256.1 L418.5,256.5 L414.5,256.9 L410.6,257.2 L406.6,257.6 L402.6,257.9 L398.6,258.2 L394.6,258.5 L390.5,258.8 L386.5,259.1 L382.4,259.4 L378.3,259.6 L374.1,259.9 L370.0,260.1 L365.8,260.3 L361.6,260.5 L357.4,260.7 L353.2,260.9 L349.0,261.1 L344.7,261.3 L340.5,261.4 L336.2,261.6 L331.9,261.7 L327.5,261.9 L323.2,262.0 L318.8,262.1 L314.4,262.2 L310.0,262.2" stroke-dasharray="12 5.4 2.2 4.7 2.2 5.4" stroke-dashoffset="17.4"/>
<path d="M701.2,254.3 L705.6,254.3 L709.3,254.4 L712.4,254.4 L714.8,254.5 L716.4,254.6 L717.5,254.7 L717.8,254.9 L707.3,255.3 L696.9,255.7 L686.4,256.1 L676.0,256.4 L665.5,256.8 L655.0,257.1 L644.6,257.5 L634.1,257.8 L623.7,258.1 L613.2,258.4 L602.8,258.7 L592.3,259.0 L581.8,259.2 L571.4,259.5 L560.9,259.7 L550.5,259.9 L540.0,260.2 L529.5,260.4 L519.1,260.6 L508.6,260.8 L498.2,260.9 L487.7,261.1 L477.2,261.2 L466.8,261.4 L456.3,261.5 L445.9,261.6 L435.4,261.8 L424.9,261.9 L414.5,262.0 L404.0,262.0 L393.6,262.1 L383.1,262.2 L372.7,262.2 L362.2,262.3 L351.7,262.3 L341.3,262.3 L330.8,262.4 L320.4,262.4 L309.9,262.4" stroke-dasharray="12 5.4 2.2 4.7 2.2 5.4"/>
<path d="M700.7,312.2 L702.2,311.1 L703.5,310.1 L704.9,309.1 L706.1,308.1 L707.3,307.2 L708.5,306.3 L709.5,305.4 L710.5,304.5 L711.5,303.7 L712.3,302.9 L713.1,302.1 L713.9,301.4 L714.6,300.6 L715.2,300.0 L715.7,299.3 L716.2,298.7 L716.6,298.1 L717.0,297.5 L717.3,297.0 L717.5,296.5 L717.7,296.0 L717.8,295.5 L717.8,295.1 L717.5,294.9 L717.5,294.6 L717.5,294.3 L717.4,293.9 L717.3,293.4 L717.2,292.9 L717.1,292.4 L717.0,291.7 L716.8,291.1 L716.5,290.4 L716.2,289.6 L715.9,288.9 L715.5,288.1 L715.1,287.2 L714.6,286.4 L714.1,285.6 L713.5,284.7 L712.8,283.9 L712.1,283.0 L711.3,282.2 L710.5,281.4 L709.6,280.7 L708.7,280.0 L707.7,279.2 L706.7,278.6 L705.5,277.9 L704.4,277.3 L703.1,276.8 L701.8,276.3 L700.5,275.8 L699.1,275.3 L697.6,274.9 L696.1,274.5 L694.5,274.2 L692.9,273.9 L691.2,273.6 L689.5,273.3 L687.7,273.1 L685.9,272.8 L684.1,272.6 L682.2,272.4 L680.3,272.3 L678.3,272.1 L676.4,271.9 L674.4,271.7 L672.4,271.5 L670.3,271.3 L668.2,271.1 L666.1,270.9 L664.0,270.7 L661.9,270.5 L659.7,270.3 L657.5,270.2 L655.3,270.0 L653.1,269.8 L650.8,269.6 L648.5,269.4 L646.2,269.2 L643.8,269.1 L641.5,268.9 L639.1,268.7 L636.7,268.5 L634.3,268.4 L631.8,268.2 L629.3,268.0 L626.9,267.9 L624.3,267.7 L621.8,267.6 L619.2,267.4 L616.7,267.3 L614.1,267.1 L611.4,267.0 L608.8,266.8 L606.1,266.7 L603.4,266.5 L600.7,266.4 L598.0,266.3 L595.2,266.1 L592.5,266.0 L589.7,265.9 L586.9,265.8 L584.0,265.7 L581.2,265.6 L578.3,265.4 L575.4,265.3 L572.5,265.2 L569.6,265.1 L566.6,265.0 L563.7,264.9 L560.7,264.8 L557.7,264.8 L554.6,264.7 L551.6,264.6 L548.5,264.5 L545.4,264.4 L542.3,264.4 L539.2,264.3 L536.1,264.2 L532.9,264.2 L529.7,264.1 L526.5,264.0 L523.3,264.0 L520.1,263.9 L516.8,263.9 L513.6,263.8 L510.3,263.8 L507.0,263.8 L503.6,263.7 L500.3,263.7 L496.9,263.6 L493.5,263.6 L490.1,263.6 L486.7,263.6 L483.3,263.5 L479.8,263.5 L476.4,263.5 L472.9,263.5 L469.4,263.5 L465.8,263.4 L462.3,263.4 L458.7,263.4 L455.2,263.4 L451.6,263.4 L447.9,263.4 L444.3,263.4 L440.7,263.4 L437.0,263.3 L433.3,263.3 L429.6,263.3 L425.9,263.3 L422.1,263.3 L418.4,263.3 L414.6,263.3 L410.8,263.3 L407.0,263.3 L403.2,263.3 L399.3,263.3 L395.4,263.2 L391.6,263.2 L387.7,263.2 L383.7,263.2 L379.8,263.2 L375.8,263.2 L371.9,263.1 L367.9,263.1 L363.9,263.1 L359.8,263.0 L355.8,263.0 L351.7,263.0 L347.6,262.9 L343.5,262.9 L339.4,262.8 L335.3,262.7 L331.1,262.7 L326.9,262.6 L322.7,262.5 L318.5,262.4 L314.3,262.4 L310.0,262.3" stroke-dasharray="12 5.4 2.2 4.7 2.2 5.4"/>
<path d="M701.2,324.8 L703.0,325.2 L704.9,325.6 L706.7,326.0 L708.6,326.5 L710.4,326.9 L712.3,327.4 L714.1,327.8 L716.0,328.3 L717.8,329.0 L717.8,328.7 L717.6,328.6 L717.2,328.5 L716.8,328.4 L716.4,328.2 L715.9,328.1 L715.3,327.9 L714.7,327.7 L714.0,327.4 L713.2,327.2 L712.5,326.9 L711.7,326.7 L710.8,326.4 L709.9,326.1 L709.0,325.8 L708.0,325.5 L707.0,325.1 L705.9,324.8 L704.8,324.4 L703.7,324.1 L702.6,323.7 L701.4,323.3 L700.1,322.9 L698.9,322.5 L697.6,322.1 L696.3,321.7 L694.9,321.3 L693.5,320.8 L692.1,320.4 L690.7,320.0 L689.2,319.5 L687.7,319.0 L686.2,318.6 L684.6,318.1 L683.0,317.6 L681.4,317.1 L679.7,316.6 L678.1,316.1 L676.4,315.6 L674.6,315.1 L672.9,314.6 L671.1,314.1 L669.3,313.6 L667.4,313.1 L665.6,312.5 L663.7,312.0 L661.8,311.5 L659.8,310.9 L657.9,310.4 L655.9,309.8 L653.9,309.3 L651.8,308.7 L649.8,308.2 L647.7,307.6 L645.6,307.0 L643.4,306.5 L641.2,305.9 L639.1,305.4 L636.8,304.8 L634.6,304.2 L632.4,303.6 L630.1,303.1 L627.8,302.5 L625.4,301.9 L623.1,301.3 L620.7,300.7 L618.3,300.2 L615.9,299.6 L613.4,299.0 L611.0,298.4 L608.5,297.8 L606.0,297.2 L603.4,296.7 L600.9,296.1 L598.3,295.5 L595.7,294.9 L593.1,294.3 L590.4,293.7 L587.7,293.1 L585.0,292.6 L582.3,292.0 L579.6,291.4 L576.8,290.8 L574.1,290.2 L571.3,289.7 L568.4,289.1 L565.6,288.5 L562.7,288.0 L559.9,287.4 L557.0,286.8 L554.0,286.3 L551.1,285.7 L548.1,285.2 L545.1,284.6 L542.1,284.1 L539.1,283.6 L536.0,283.0 L533.0,282.5 L529.9,282.0 L526.8,281.5 L523.6,281.0 L520.5,280.5 L517.3,280.0 L514.1,279.5 L510.9,279.0 L507.7,278.5 L504.4,278.1 L501.2,277.6 L497.9,277.1 L494.6,276.7 L491.2,276.3 L487.9,275.8 L484.5,275.4 L481.1,275.0 L477.7,274.6 L474.3,274.2 L470.9,273.8 L467.4,273.4 L463.9,273.0 L460.4,272.6 L456.9,272.3 L453.4,271.9 L449.8,271.6 L446.2,271.2 L442.6,270.9 L439.0,270.5 L435.4,270.2 L431.8,269.8 L428.1,269.5 L424.4,269.2 L420.7,268.9 L417.0,268.6 L413.2,268.3 L409.5,268.0 L405.7,267.7 L401.9,267.4 L398.1,267.1 L394.3,266.8 L390.5,266.5 L386.6,266.3 L382.7,266.0 L378.8,265.8 L374.9,265.5 L371.0,265.3 L367.0,265.0 L363.1,264.8 L359.1,264.6 L355.1,264.3 L351.1,264.1 L347.1,263.9 L343.0,263.7 L339.0,263.5 L334.9,263.4 L330.8,263.2 L326.7,263.0 L322.6,262.9 L318.5,262.7 L314.3,262.6 L310.1,262.4" stroke-dasharray="12 5.4 2.2 4.7 2.2 5.4"/>
</g>
<g stroke="#ff3333">
<path d="M712.3,136.4 L713.1,136.6 L713.9,136.8 L714.6,137.1 L715.3,137.3 L715.9,137.6 L716.6,137.9 L717.2,138.3 L717.7,138.6 L718.2,139.0 L718.7,139.4 L719.1,139.9 L719.5,140.3 L719.9,140.8 L720.3,141.3 L720.6,141.9 L720.8,142.4 L721.1,143.0 L721.3,143.6 L721.4,144.2 L721.5,144.9 L721.6,145.6 L721.7,146.3 L721.7,147.0 L722.1,147.8 L722.1,148.1 L722.1,148.4 L722.0,148.9 L722.0,149.4 L721.9,149.9 L721.8,150.6 L721.6,151.2 L721.4,151.9 L721.2,152.6 L720.9,153.4 L720.6,154.2 L720.2,154.9 L719.7,155.8 L719.2,156.6 L718.6,157.4 L717.9,158.3 L717.2,159.2 L716.4,160.0 L715.5,160.9 L714.6,161.8 L713.6,162.7 L712.6,163.6 L711.5,164.5 L710.3,165.4 L709.2,166.3 L708.0,167.2 L706.7,168.2 L705.4,169.1 L704.1,170.1 L702.8,171.0 L701.4,172.0 L700.0,173.0 L698.5,174.0 L697.0,174.9 L695.5,175.9 L694.0,176.9 L692.4,177.9 L690.8,178.9 L689.1,179.9 L687.4,180.9 L685.7,181.9 L684.0,182.8 L682.2,183.8 L680.4,184.8 L678.5,185.8 L676.7,186.8 L674.8,187.8 L672.8,188.7 L670.8,189.7 L668.8,190.7 L666.8,191.6 L664.7,192.6 L662.6,193.6 L660.5,194.5 L658.3,195.5 L656.1,196.4 L653.9,197.3 L651.7,198.3 L649.4,199.2 L647.1,200.1 L644.7,201.0 L642.4,202.0 L640.0,202.9 L637.5,203.8 L635.1,204.7 L632.6,205.6 L630.1,206.5 L627.6,207.4 L625.0,208.3 L622.4,209.2 L619.8,210.1 L617.2,211.0 L614.5,211.9 L611.8,212.8 L609.1,213.7 L606.4,214.6 L603.7,215.5 L600.9,216.4 L598.1,217.3 L595.3,218.2 L592.4,219.0 L589.6,219.9 L586.7,220.8 L583.8,221.7 L580.8,222.6 L577.9,223.4 L574.9,224.3 L571.9,225.2 L568.9,226.0 L565.8,226.9 L562.7,227.8 L559.7,228.6 L556.5,229.4 L553.4,230.3 L550.2,231.1 L547.1,231.9 L543.8,232.8 L540.6,233.6 L537.4,234.4 L534.1,235.2 L530.8,236.0 L527.5,236.8 L524.2,237.6 L520.8,238.3 L517.4,239.1 L514.0,239.9 L510.6,240.6 L507.1,241.4 L503.7,242.1 L500.2,242.8 L496.7,243.5 L493.1,244.2 L489.6,244.9 L486.0,245.6 L482.4,246.3 L478.8,247.0 L475.2,247.6 L471.5,248.3 L467.8,248.9 L464.1,249.5 L460.4,250.1 L456.6,250.7 L452.9,251.3 L449.1,251.9 L445.3,252.4 L441.5,253.0 L437.6,253.5 L433.7,254.0 L429.9,254.5 L426.0,255.0 L422.0,255.5 L418.1,256.0 L414.1,256.4 L410.1,256.8 L406.1,257.3 L402.1,257.7 L398.0,258.0 L393.9,258.4 L389.9,258.8 L385.7,259.1 L381.6,259.4 L377.5,259.7 L373.3,260.0 L369.1,260.3 L364.9,260.5 L360.7,260.7 L356.4,261.0 L352.1,261.2 L347.8,261.3 L343.5,261.5 L339.2,261.6 L334.9,261.7 L330.5,261.8 L326.1,261.9 L321.7,262.0 L317.3,262.0"/>
<path d="M712.3,243.6 L714.8,243.8 L716.9,244.0 L718.6,244.2 L720.0,244.5 L720.9,244.8 L721.5,245.1 L721.7,245.5 L711.2,246.4 L700.8,247.3 L690.3,248.1 L679.8,249.0 L669.4,249.8 L658.9,250.5 L648.4,251.3 L638.0,252.0 L627.5,252.7 L617.0,253.3 L606.6,254.0 L596.1,254.6 L585.6,255.2 L575.2,255.8 L564.7,256.3 L554.2,256.8 L543.8,257.3 L533.3,257.8 L522.8,258.2 L512.4,258.6 L501.9,259.0 L491.4,259.4 L481.0,259.7 L470.5,260.1 L460.0,260.4 L449.6,260.6 L439.1,260.9 L428.6,261.1 L418.2,261.3 L407.7,261.5 L397.2,261.7 L386.8,261.9 L376.3,262.0 L365.8,262.1 L355.4,262.2 L344.9,262.3 L334.4,262.3 L324.0,262.4 L313.5,262.4"/>
<path d="M712.5,300.6 L713.3,299.8 L714.0,299.1 L714.7,298.3 L715.4,297.6 L716.1,296.9 L716.7,296.3 L717.2,295.6 L717.8,295.0 L718.3,294.4 L718.8,293.8 L719.2,293.2 L719.6,292.7 L720.0,292.2 L720.3,291.7 L720.6,291.2 L720.8,290.7 L721.1,290.3 L721.3,289.9 L721.4,289.5 L721.5,289.1 L721.6,288.7 L721.7,288.4 L721.7,288.1 L721.1,287.9 L721.1,287.6 L721.0,287.3 L721.0,286.9 L720.9,286.5 L720.7,286.0 L720.5,285.4 L720.3,284.8 L720.0,284.2 L719.6,283.5 L719.2,282.9 L718.7,282.2 L718.2,281.5 L717.5,280.8 L716.8,280.2 L716.1,279.5 L715.3,278.9 L714.4,278.3 L713.4,277.8 L712.4,277.3 L711.3,276.8 L710.2,276.4 L708.9,276.0 L707.7,275.7 L706.3,275.3 L704.9,275.0 L703.5,274.7 L702.0,274.5 L700.5,274.2 L699.0,273.9 L697.4,273.7 L695.8,273.4 L694.1,273.2 L692.5,272.9 L690.8,272.6 L689.0,272.4 L687.3,272.1 L685.5,271.9 L683.7,271.6 L681.8,271.4 L680.0,271.1 L678.1,270.9 L676.2,270.6 L674.2,270.4 L672.2,270.2 L670.2,269.9 L668.2,269.7 L666.2,269.5 L664.1,269.3 L662.0,269.1 L659.9,268.8 L657.7,268.6 L655.5,268.4 L653.3,268.2 L651.1,268.1 L648.9,267.9 L646.6,267.7 L644.3,267.5 L642.0,267.3 L639.6,267.2 L637.3,267.0 L634.9,266.9 L632.5,266.7 L630.1,266.6 L627.6,266.4 L625.1,266.3 L622.6,266.2 L620.1,266.1 L617.6,265.9 L615.0,265.8 L612.4,265.7 L609.8,265.6 L607.2,265.5 L604.6,265.4 L601.9,265.4 L599.2,265.3 L596.5,265.2 L593.8,265.1 L591.0,265.1 L588.2,265.0 L585.4,265.0 L582.6,264.9 L579.8,264.8 L576.9,264.8 L574.0,264.8 L571.1,264.7 L568.2,264.7 L565.3,264.6 L562.3,264.6 L559.3,264.6 L556.3,264.5 L553.3,264.5 L550.3,264.5 L547.2,264.5 L544.1,264.4 L541.0,264.4 L537.9,264.4 L534.8,264.3 L531.6,264.3 L528.4,264.3 L525.2,264.2 L522.0,264.2 L518.8,264.2 L515.5,264.1 L512.2,264.1 L508.9,264.0 L505.6,264.0 L502.2,264.0 L498.9,263.9 L495.5,263.9 L492.1,263.8 L488.7,263.8 L485.3,263.7 L481.8,263.7 L478.3,263.7 L474.8,263.6 L471.3,263.6 L467.8,263.5 L464.3,263.5 L460.7,263.4 L457.1,263.4 L453.5,263.3 L449.9,263.3 L446.3,263.2 L442.6,263.2 L438.9,263.2 L435.2,263.1 L431.5,263.1 L427.8,263.0 L424.1,263.0 L420.3,262.9 L416.5,262.9 L412.8,262.9 L408.9,262.8 L405.1,262.8 L401.3,262.7 L397.4,262.7 L393.5,262.7 L389.6,262.6 L385.7,262.6 L381.8,262.6 L377.9,262.5 L373.9,262.5 L369.9,262.5 L366.0,262.5 L361.9,262.4 L357.9,262.4 L353.9,262.4 L349.8,262.4 L345.8,262.4 L341.7,262.4 L337.6,262.4 L333.5,262.4 L329.4,262.4 L325.2,262.4 L321.1,262.4 L316.9,262.4"/>
<path d="M712.3,331.7 L713.3,332.0 L714.4,332.3 L715.4,332.6 L716.5,332.9 L717.5,333.2 L718.6,333.5 L719.6,333.8 L720.7,334.1 L721.7,335.0 L721.8,334.4 L721.6,334.3 L721.3,334.2 L720.9,334.1 L720.4,333.9 L719.9,333.7 L719.3,333.5 L718.6,333.2 L718.0,333.0 L717.2,332.7 L716.4,332.4 L715.6,332.1 L714.8,331.8 L713.8,331.4 L712.9,331.1 L711.9,330.7 L710.9,330.3 L709.8,329.9 L708.7,329.5 L707.6,329.1 L706.4,328.7 L705.2,328.3 L704.0,327.8 L702.7,327.4 L701.4,326.9 L700.1,326.5 L698.7,326.0 L697.3,325.5 L695.9,325.0 L694.4,324.5 L692.9,324.0 L691.4,323.5 L689.9,322.9 L688.3,322.4 L686.7,321.9 L685.0,321.3 L683.4,320.8 L681.7,320.2 L680.0,319.7 L678.2,319.1 L676.4,318.5 L674.6,318.0 L672.8,317.4 L670.9,316.8 L669.0,316.2 L667.1,315.6 L665.2,315.0 L663.2,314.4 L661.2,313.8 L659.2,313.2 L657.2,312.6 L655.1,312.0 L653.0,311.4 L650.9,310.8 L648.8,310.2 L646.6,309.6 L644.4,309.0 L642.2,308.4 L639.9,307.7 L637.7,307.1 L635.4,306.5 L633.1,305.9 L630.7,305.3 L628.4,304.7 L626.0,304.0 L623.6,303.4 L621.1,302.8 L618.7,302.2 L616.2,301.6 L613.7,301.0 L611.2,300.4 L608.6,299.7 L606.0,299.1 L603.4,298.5 L600.8,297.9 L598.2,297.3 L595.5,296.7 L592.8,296.1 L590.1,295.5 L587.4,294.9 L584.6,294.3 L581.9,293.7 L579.1,293.1 L576.2,292.5 L573.4,292.0 L570.5,291.4 L567.6,290.8 L564.7,290.2 L561.8,289.7 L558.9,289.1 L555.9,288.5 L552.9,288.0 L549.9,287.4 L546.8,286.9 L543.8,286.3 L540.7,285.8 L537.6,285.3 L534.5,284.7 L531.4,284.2 L528.2,283.7 L525.0,283.1 L521.8,282.6 L518.6,282.1 L515.4,281.6 L512.1,281.1 L508.8,280.6 L505.5,280.1 L502.2,279.7 L498.8,279.2 L495.5,278.7 L492.1,278.2 L488.7,277.8 L485.3,277.3 L481.8,276.9 L478.4,276.4 L474.9,276.0 L471.4,275.5 L467.9,275.1 L464.4,274.7 L460.8,274.3 L457.2,273.8 L453.6,273.4 L450.0,273.0 L446.4,272.6 L442.7,272.2 L439.1,271.9 L435.4,271.5 L431.7,271.1 L428.0,270.7 L424.2,270.4 L420.5,270.0 L416.7,269.7 L412.9,269.3 L409.1,269.0 L405.3,268.7 L401.4,268.3 L397.6,268.0 L393.7,267.7 L389.8,267.4 L385.9,267.1 L382.0,266.8 L378.0,266.5 L374.1,266.2 L370.1,265.9 L366.1,265.6 L362.1,265.4 L358.1,265.1 L354.0,264.8 L350.0,264.6 L345.9,264.3 L341.8,264.1 L337.7,263.8 L333.6,263.6 L329.5,263.3 L325.3,263.1 L321.1,262.9 L317.0,262.7"/>
<path d="M738.6,131.0 L739.9,131.2 L741.1,131.4 L742.2,131.7 L743.3,132.0 L744.4,132.3 L745.4,132.6 L746.3,133.0 L747.2,133.3 L748.0,133.7 L748.7,134.2 L749.4,134.6 L750.1,135.1 L750.7,135.6 L751.2,136.1 L751.7,136.7 L752.1,137.3 L752.5,137.9 L752.8,138.5 L753.0,139.1 L753.2,139.8 L753.4,140.5 L753.5,141.2 L753.5,142.0 L753.9,142.8 L753.9,143.1 L753.9,143.5 L753.8,144.0 L753.8,144.5 L753.7,145.1 L753.6,145.7 L753.4,146.4 L753.2,147.1 L753.0,147.9 L752.7,148.7 L752.3,149.5 L751.9,150.3 L751.4,151.2 L750.8,152.0 L750.1,152.9 L749.4,153.8 L748.7,154.7 L747.8,155.6 L746.9,156.5 L745.9,157.4 L744.8,158.4 L743.7,159.3 L742.5,160.2 L741.3,161.2 L740.0,162.2 L738.7,163.1 L737.4,164.1 L736.0,165.1 L734.6,166.1 L733.1,167.1 L731.7,168.1 L730.1,169.1 L728.6,170.1 L727.0,171.2 L725.4,172.2 L723.7,173.2 L722.0,174.3 L720.3,175.3 L718.5,176.3 L716.7,177.4 L714.8,178.4 L713.0,179.4 L711.0,180.5 L709.1,181.5 L707.1,182.5 L705.1,183.6 L703.0,184.6 L701.0,185.6 L698.8,186.6 L696.7,187.7 L694.5,188.7 L692.3,189.7 L690.0,190.7 L687.7,191.7 L685.4,192.7 L683.0,193.7 L680.6,194.7 L678.2,195.7 L675.8,196.6 L673.3,197.6 L670.8,198.6 L668.2,199.6 L665.6,200.5 L663.0,201.5 L660.4,202.5 L657.7,203.4 L655.0,204.4 L652.3,205.4 L649.6,206.3 L646.8,207.3 L644.0,208.2 L641.1,209.2 L638.3,210.2 L635.4,211.1 L632.5,212.1 L629.6,213.1 L626.6,214.0 L623.6,215.0 L620.6,215.9 L617.6,216.9 L614.5,217.9 L611.5,218.8 L608.4,219.8 L605.2,220.7 L602.1,221.7 L598.9,222.6 L595.7,223.5 L592.5,224.5 L589.2,225.4 L585.9,226.3 L582.6,227.2 L579.3,228.1 L576.0,229.0 L572.6,229.9 L569.2,230.8 L565.8,231.7 L562.3,232.5 L558.8,233.4 L555.3,234.2 L551.8,235.1 L548.3,235.9 L544.7,236.7 L541.1,237.5 L537.5,238.3 L533.9,239.1 L530.2,239.8 L526.6,240.6 L522.8,241.3 L519.1,242.1 L515.4,242.8 L511.6,243.5 L507.8,244.2 L504.0,244.9 L500.1,245.5 L496.3,246.2 L492.4,246.9 L488.5,247.5 L484.5,248.1 L480.6,248.7 L476.6,249.4 L472.6,249.9 L468.6,250.5 L464.5,251.1 L460.5,251.7 L456.4,252.2 L452.2,252.8 L448.1,253.3 L444.0,253.8 L439.8,254.3 L435.6,254.8 L431.3,255.3 L427.1,255.8 L422.8,256.2 L418.5,256.7 L414.2,257.1 L409.9,257.5 L405.5,257.9 L401.2,258.3 L396.8,258.6 L392.3,259.0 L387.9,259.3 L383.4,259.6 L379.0,259.9 L374.4,260.2 L369.9,260.4 L365.4,260.7 L360.8,260.9 L356.2,261.1 L351.6,261.3 L347.0,261.4 L342.3,261.6 L337.6,261.7 L333.0,261.8 L328.2,261.9 L323.5,261.9 L318.7,262.0 L314.0,262.0" stroke-dasharray="7 11.3"/>
<path d="M738.6,243.2 L742.6,243.2 L745.9,243.4 L748.6,243.5 L750.8,243.8 L752.3,244.0 L753.2,244.4 L753.5,244.7 L742.2,245.7 L730.9,246.6 L719.7,247.5 L708.4,248.4 L697.1,249.2 L685.8,250.0 L674.5,250.8 L663.2,251.5 L652.0,252.3 L640.7,253.0 L629.4,253.6 L618.1,254.3 L606.8,254.9 L595.6,255.5 L584.3,256.0 L573.0,256.6 L561.7,257.1 L550.4,257.6 L539.1,258.0 L527.9,258.5 L516.6,258.9 L505.3,259.3 L494.0,259.6 L482.7,260.0 L471.4,260.3 L460.2,260.6 L448.9,260.8 L437.6,261.1 L426.3,261.3 L415.0,261.5 L403.8,261.7 L392.5,261.8 L381.2,262.0 L369.9,262.1 L358.6,262.2 L347.3,262.3 L336.1,262.3 L324.8,262.4 L313.5,262.4" stroke-dasharray="7 11.3"/>
<path d="M726.5,309.8 L728.8,308.6 L731.0,307.4 L733.1,306.2 L735.1,305.1 L737.0,304.0 L738.7,303.0 L740.4,301.9 L742.0,300.9 L743.5,300.0 L744.9,299.1 L746.2,298.2 L747.3,297.3 L748.4,296.5 L749.4,295.7 L750.2,294.9 L751.0,294.2 L751.7,293.5 L752.2,292.9 L752.7,292.3 L753.0,291.7 L753.3,291.1 L753.4,290.6 L753.5,290.1 L752.9,289.8 L752.8,289.6 L752.8,289.2 L752.7,288.8 L752.6,288.3 L752.4,287.8 L752.2,287.2 L752.0,286.6 L751.7,285.9 L751.3,285.2 L750.8,284.5 L750.3,283.7 L749.7,283.0 L749.0,282.3 L748.3,281.5 L747.5,280.9 L746.6,280.2 L745.6,279.6 L744.6,279.0 L743.5,278.5 L742.3,278.0 L741.1,277.5 L739.8,277.1 L738.4,276.7 L737.0,276.3 L735.5,276.0 L733.9,275.7 L732.4,275.4 L730.7,275.1 L729.1,274.8 L727.4,274.6 L725.6,274.3 L723.9,274.0 L722.1,273.7 L720.2,273.4 L718.4,273.2 L716.5,272.9 L714.6,272.6 L712.6,272.3 L710.6,272.1 L708.6,271.8 L706.6,271.5 L704.5,271.3 L702.4,271.0 L700.3,270.8 L698.2,270.5 L696.0,270.3 L693.8,270.0 L691.6,269.8 L689.3,269.6 L687.0,269.3 L684.7,269.1 L682.4,268.9 L680.0,268.7 L677.6,268.5 L675.2,268.3 L672.8,268.1 L670.3,267.9 L667.8,267.7 L665.3,267.5 L662.8,267.4 L660.2,267.2 L657.6,267.0 L655.0,266.9 L652.4,266.7 L649.7,266.6 L647.0,266.5 L644.3,266.3 L641.6,266.2 L638.8,266.1 L636.0,266.0 L633.2,265.9 L630.4,265.8 L627.6,265.7 L624.7,265.6 L621.8,265.5 L618.9,265.4 L616.0,265.3 L613.0,265.3 L610.0,265.2 L607.0,265.2 L604.0,265.1 L600.9,265.0 L597.9,265.0 L594.8,264.9 L591.7,264.9 L588.5,264.9 L585.4,264.8 L582.2,264.8 L579.0,264.7 L575.7,264.7 L572.5,264.7 L569.2,264.6 L565.9,264.6 L562.6,264.6 L559.3,264.6 L555.9,264.5 L552.5,264.5 L549.1,264.5 L545.7,264.4 L542.3,264.4 L538.8,264.3 L535.3,264.3 L531.8,264.3 L528.3,264.2 L524.7,264.2 L521.2,264.1 L517.6,264.1 L514.0,264.0 L510.3,264.0 L506.7,263.9 L503.0,263.9 L499.3,263.9 L495.6,263.8 L491.9,263.8 L488.1,263.7 L484.4,263.7 L480.6,263.6 L476.8,263.6 L472.9,263.5 L469.1,263.5 L465.2,263.4 L461.3,263.4 L457.4,263.3 L453.5,263.3 L449.5,263.2 L445.6,263.2 L441.6,263.1 L437.6,263.1 L433.6,263.0 L429.5,263.0 L425.5,262.9 L421.4,262.9 L417.3,262.8 L413.2,262.8 L409.0,262.8 L404.9,262.7 L400.7,262.7 L396.5,262.6 L392.3,262.6 L388.1,262.6 L383.9,262.5 L379.6,262.5 L375.4,262.5 L371.1,262.5 L366.8,262.4 L362.4,262.4 L358.1,262.4 L353.8,262.4 L349.4,262.4 L345.0,262.4 L340.6,262.4 L336.2,262.4 L331.7,262.4 L327.3,262.4 L322.8,262.4 L318.3,262.4 L313.8,262.4" stroke-dasharray="7 11.3" stroke-dashoffset="5.5"/>
<path d="M738.6,334.2 L740.3,334.7 L741.9,335.1 L743.6,335.6 L745.2,336.0 L746.9,336.5 L748.5,336.9 L750.2,337.4 L751.8,337.9 L753.5,339.0 L753.6,338.4 L753.4,338.3 L753.0,338.2 L752.6,338.0 L752.1,337.8 L751.5,337.6 L750.9,337.4 L750.2,337.1 L749.5,336.8 L748.7,336.6 L747.8,336.2 L747.0,335.9 L746.0,335.6 L745.1,335.2 L744.0,334.8 L743.0,334.5 L741.9,334.1 L740.7,333.7 L739.6,333.2 L738.3,332.8 L737.1,332.4 L735.8,331.9 L734.5,331.4 L733.1,331.0 L731.7,330.5 L730.3,330.0 L728.8,329.5 L727.3,328.9 L725.7,328.4 L724.2,327.9 L722.6,327.4 L720.9,326.8 L719.3,326.3 L717.6,325.7 L715.8,325.1 L714.1,324.6 L712.3,324.0 L710.5,323.4 L708.6,322.8 L706.7,322.2 L704.8,321.6 L702.9,321.0 L700.9,320.4 L698.9,319.8 L696.9,319.1 L694.8,318.5 L692.8,317.9 L690.6,317.3 L688.5,316.6 L686.3,316.0 L684.1,315.3 L681.9,314.7 L679.7,314.0 L677.4,313.4 L675.1,312.7 L672.8,312.1 L670.4,311.4 L668.0,310.8 L665.6,310.1 L663.2,309.4 L660.7,308.8 L658.2,308.1 L655.7,307.4 L653.2,306.8 L650.6,306.1 L648.0,305.4 L645.4,304.8 L642.7,304.1 L640.1,303.4 L637.4,302.8 L634.7,302.1 L631.9,301.4 L629.2,300.7 L626.4,300.1 L623.6,299.4 L620.7,298.7 L617.9,298.1 L615.0,297.4 L612.1,296.7 L609.1,296.1 L606.2,295.4 L603.2,294.7 L600.2,294.1 L597.1,293.4 L594.1,292.8 L591.0,292.1 L587.9,291.5 L584.8,290.8 L581.6,290.2 L578.4,289.5 L575.3,288.9 L572.0,288.3 L568.8,287.7 L565.5,287.0 L562.2,286.4 L558.9,285.8 L555.6,285.2 L552.3,284.7 L548.9,284.1 L545.5,283.5 L542.1,283.0 L538.6,282.4 L535.2,281.9 L531.7,281.3 L528.2,280.8 L524.6,280.3 L521.1,279.8 L517.5,279.3 L513.9,278.8 L510.3,278.3 L506.7,277.9 L503.0,277.4 L499.3,277.0 L495.6,276.5 L491.9,276.1 L488.2,275.7 L484.4,275.3 L480.7,274.9 L476.9,274.5 L473.0,274.1 L469.2,273.7 L465.3,273.3 L461.4,272.9 L457.5,272.6 L453.6,272.2 L449.7,271.9 L445.7,271.5 L441.7,271.2 L437.7,270.8 L433.7,270.5 L429.7,270.1 L425.6,269.8 L421.6,269.5 L417.5,269.1 L413.4,268.8 L409.2,268.5 L405.1,268.2 L400.9,267.9 L396.7,267.6 L392.5,267.2 L388.3,266.9 L384.1,266.6 L379.8,266.3 L375.5,266.1 L371.2,265.8 L366.9,265.5 L362.6,265.2 L358.2,264.9 L353.9,264.7 L349.5,264.4 L345.1,264.1 L340.7,263.9 L336.3,263.6 L331.8,263.4 L327.4,263.1 L322.9,262.9 L318.4,262.7 L313.9,262.4" stroke-dasharray="7 11.3"/>
<path d="M741.7,125.5 L743.8,125.7 L745.7,126.0 L747.6,126.3 L749.4,126.6 L751.0,126.9 L752.6,127.3 L754.1,127.7 L755.5,128.1 L756.9,128.6 L758.1,129.1 L759.2,129.6 L760.3,130.2 L761.2,130.7 L762.1,131.3 L762.9,132.0 L763.6,132.6 L764.2,133.3 L764.7,134.0 L765.1,134.7 L765.4,135.5 L765.6,136.3 L765.8,137.1 L765.8,138.0 L766.2,138.9 L766.2,139.2 L766.2,139.6 L766.2,140.0 L766.1,140.6 L766.0,141.2 L765.9,141.8 L765.7,142.5 L765.5,143.3 L765.3,144.1 L764.9,144.9 L764.6,145.7 L764.1,146.6 L763.6,147.5 L763.0,148.4 L762.4,149.3 L761.6,150.2 L760.8,151.1 L759.9,152.1 L759.0,153.0 L758.0,154.0 L756.9,154.9 L755.7,155.9 L754.5,156.8 L753.3,157.8 L752.0,158.8 L750.6,159.8 L749.2,160.8 L747.8,161.9 L746.4,162.9 L744.9,163.9 L743.4,165.0 L741.8,166.0 L740.2,167.1 L738.6,168.1 L736.9,169.2 L735.2,170.3 L733.4,171.3 L731.7,172.4 L729.8,173.5 L728.0,174.6 L726.1,175.6 L724.2,176.7 L722.2,177.8 L720.2,178.8 L718.2,179.9 L716.1,181.0 L714.0,182.0 L711.8,183.1 L709.7,184.1 L707.4,185.2 L705.2,186.2 L702.9,187.3 L700.6,188.3 L698.2,189.4 L695.8,190.4 L693.4,191.4 L691.0,192.5 L688.5,193.5 L686.0,194.5 L683.4,195.5 L680.8,196.5 L678.2,197.5 L675.6,198.5 L672.9,199.5 L670.2,200.5 L667.4,201.5 L664.7,202.5 L661.9,203.5 L659.0,204.5 L656.2,205.5 L653.3,206.5 L650.4,207.5 L647.5,208.5 L644.5,209.6 L641.5,210.6 L638.5,211.6 L635.5,212.6 L632.4,213.6 L629.3,214.6 L626.2,215.6 L623.1,216.6 L619.9,217.6 L616.7,218.6 L613.5,219.5 L610.3,220.5 L607.0,221.5 L603.7,222.5 L600.4,223.4 L597.1,224.4 L593.7,225.4 L590.3,226.3 L586.9,227.3 L583.5,228.2 L580.0,229.1 L576.5,230.0 L573.0,230.9 L569.5,231.8 L565.9,232.7 L562.3,233.6 L558.7,234.4 L555.1,235.3 L551.4,236.1 L547.7,236.9 L544.0,237.7 L540.3,238.5 L536.5,239.3 L532.7,240.1 L528.9,240.9 L525.1,241.6 L521.2,242.3 L517.4,243.1 L513.5,243.8 L509.5,244.5 L505.6,245.1 L501.6,245.8 L497.6,246.5 L493.6,247.1 L489.6,247.8 L485.5,248.4 L481.4,249.0 L477.3,249.6 L473.2,250.2 L469.0,250.8 L464.8,251.4 L460.6,251.9 L456.4,252.5 L452.2,253.0 L447.9,253.6 L443.6,254.1 L439.3,254.6 L435.0,255.1 L430.6,255.6 L426.2,256.0 L421.8,256.5 L417.4,256.9 L412.9,257.3 L408.4,257.7 L404.0,258.1 L399.4,258.5 L394.9,258.9 L390.3,259.2 L385.8,259.5 L381.1,259.8 L376.5,260.1 L371.9,260.4 L367.2,260.6 L362.5,260.9 L357.8,261.1 L353.1,261.2 L348.3,261.4 L343.5,261.6 L338.7,261.7 L333.9,261.8 L329.1,261.9 L324.2,261.9 L319.3,262.0 L314.4,262.0" stroke-dasharray="11 5.6 2.4 5.5"/>
<path d="M741.7,243.5 L748.1,243.4 L753.5,243.3 L757.9,243.4 L761.4,243.5 L763.8,243.7 L765.3,244.0 L765.8,244.4 L754.2,245.3 L742.6,246.3 L731.0,247.2 L719.4,248.1 L707.8,248.9 L696.2,249.7 L684.6,250.5 L673.0,251.3 L661.4,252.0 L649.8,252.8 L638.2,253.4 L626.6,254.1 L615.0,254.7 L603.4,255.3 L591.8,255.9 L580.2,256.5 L568.6,257.0 L557.0,257.5 L545.4,258.0 L533.9,258.4 L522.3,258.8 L510.7,259.2 L499.1,259.6 L487.5,259.9 L475.9,260.2 L464.3,260.5 L452.7,260.8 L441.1,261.1 L429.5,261.3 L417.9,261.5 L406.3,261.7 L394.7,261.8 L383.1,262.0 L371.5,262.1 L359.9,262.2 L348.3,262.3 L336.7,262.3 L325.1,262.4 L313.5,262.4" stroke-dasharray="11 5.6 2.4 5.5"/>
<path d="M740.1,309.7 L742.3,308.5 L744.4,307.3 L746.4,306.1 L748.3,305.0 L750.1,303.9 L751.8,302.9 L753.4,301.9 L754.9,300.9 L756.3,299.9 L757.6,299.0 L758.8,298.1 L759.9,297.3 L760.9,296.5 L761.9,295.7 L762.7,294.9 L763.4,294.2 L764.1,293.5 L764.6,292.9 L765.0,292.2 L765.4,291.7 L765.6,291.1 L765.8,290.6 L765.8,290.1 L765.2,289.8 L765.1,289.6 L765.1,289.2 L765.0,288.8 L764.9,288.3 L764.7,287.8 L764.5,287.2 L764.2,286.6 L763.9,285.9 L763.5,285.2 L763.1,284.5 L762.5,283.7 L761.9,283.0 L761.2,282.3 L760.4,281.5 L759.6,280.9 L758.7,280.2 L757.7,279.6 L756.7,279.0 L755.5,278.5 L754.3,278.0 L753.1,277.5 L751.7,277.1 L750.3,276.7 L748.8,276.3 L747.3,276.0 L745.7,275.7 L744.1,275.4 L742.4,275.1 L740.7,274.8 L738.9,274.6 L737.2,274.3 L735.4,274.0 L733.5,273.7 L731.6,273.4 L729.7,273.2 L727.8,272.9 L725.8,272.6 L723.8,272.3 L721.8,272.1 L719.7,271.8 L717.6,271.5 L715.5,271.3 L713.4,271.0 L711.2,270.8 L709.0,270.5 L706.7,270.3 L704.5,270.0 L702.2,269.8 L699.9,269.6 L697.5,269.3 L695.1,269.1 L692.7,268.9 L690.3,268.7 L687.9,268.5 L685.4,268.3 L682.9,268.1 L680.4,267.9 L677.8,267.7 L675.2,267.5 L672.6,267.4 L670.0,267.2 L667.3,267.0 L664.6,266.9 L661.9,266.7 L659.2,266.6 L656.4,266.5 L653.7,266.3 L650.9,266.2 L648.0,266.1 L645.2,266.0 L642.3,265.9 L639.4,265.8 L636.5,265.7 L633.5,265.6 L630.6,265.5 L627.6,265.4 L624.5,265.3 L621.5,265.3 L618.4,265.2 L615.4,265.2 L612.2,265.1 L609.1,265.0 L606.0,265.0 L602.8,264.9 L599.6,264.9 L596.4,264.9 L593.1,264.8 L589.8,264.8 L586.6,264.7 L583.2,264.7 L579.9,264.7 L576.5,264.6 L573.2,264.6 L569.8,264.6 L566.3,264.6 L562.9,264.5 L559.4,264.5 L555.9,264.5 L552.4,264.4 L548.9,264.4 L545.3,264.3 L541.7,264.3 L538.1,264.3 L534.5,264.2 L530.9,264.2 L527.2,264.1 L523.5,264.1 L519.8,264.0 L516.1,264.0 L512.3,263.9 L508.6,263.9 L504.8,263.9 L501.0,263.8 L497.1,263.8 L493.3,263.7 L489.4,263.7 L485.5,263.6 L481.6,263.6 L477.7,263.5 L473.7,263.5 L469.7,263.4 L465.7,263.4 L461.7,263.3 L457.7,263.3 L453.6,263.2 L449.6,263.2 L445.5,263.1 L441.4,263.1 L437.2,263.0 L433.1,263.0 L428.9,262.9 L424.7,262.9 L420.5,262.8 L416.3,262.8 L412.0,262.8 L407.8,262.7 L403.5,262.7 L399.2,262.6 L394.9,262.6 L390.6,262.6 L386.2,262.5 L381.8,262.5 L377.5,262.5 L373.1,262.5 L368.6,262.4 L364.2,262.4 L359.7,262.4 L355.3,262.4 L350.8,262.4 L346.3,262.4 L341.8,262.4 L337.2,262.4 L332.7,262.4 L328.1,262.4 L323.5,262.4 L318.9,262.4 L314.3,262.4" stroke-dasharray="11 5.6 2.4 5.5" stroke-dashoffset="16.6"/>
<path d="M741.7,333.8 L744.4,334.5 L747.1,335.2 L749.7,335.9 L752.4,336.6 L755.1,337.3 L757.8,338.1 L760.4,338.8 L763.1,339.6 L765.8,341.0 L765.9,340.4 L765.7,340.3 L765.3,340.1 L764.9,340.0 L764.4,339.8 L763.8,339.6 L763.1,339.3 L762.4,339.1 L761.7,338.8 L760.9,338.5 L760.0,338.2 L759.1,337.8 L758.1,337.5 L757.1,337.1 L756.1,336.7 L755.0,336.3 L753.9,335.9 L752.7,335.5 L751.5,335.1 L750.2,334.6 L748.9,334.2 L747.6,333.7 L746.2,333.2 L744.8,332.7 L743.4,332.2 L741.9,331.7 L740.4,331.2 L738.9,330.7 L737.3,330.1 L735.7,329.6 L734.0,329.0 L732.4,328.5 L730.6,327.9 L728.9,327.3 L727.1,326.8 L725.3,326.2 L723.5,325.6 L721.6,325.0 L719.7,324.4 L717.8,323.8 L715.8,323.1 L713.8,322.5 L711.8,321.9 L709.7,321.2 L707.7,320.6 L705.6,320.0 L703.4,319.3 L701.2,318.7 L699.0,318.0 L696.8,317.4 L694.6,316.7 L692.3,316.0 L690.0,315.4 L687.6,314.7 L685.3,314.0 L682.9,313.3 L680.5,312.7 L678.0,312.0 L675.5,311.3 L673.0,310.6 L670.5,309.9 L667.9,309.3 L665.4,308.6 L662.8,307.9 L660.1,307.2 L657.5,306.5 L654.8,305.8 L652.1,305.1 L649.3,304.4 L646.6,303.7 L643.8,303.0 L640.9,302.3 L638.1,301.6 L635.2,300.9 L632.3,300.2 L629.4,299.5 L626.5,298.8 L623.5,298.1 L620.5,297.5 L617.5,296.8 L614.5,296.1 L611.4,295.4 L608.3,294.7 L605.2,294.0 L602.1,293.3 L598.9,292.7 L595.7,292.0 L592.5,291.3 L589.3,290.6 L586.0,290.0 L582.7,289.3 L579.4,288.7 L576.1,288.0 L572.8,287.4 L569.4,286.8 L566.0,286.1 L562.6,285.5 L559.1,284.9 L555.7,284.3 L552.2,283.7 L548.7,283.2 L545.1,282.6 L541.6,282.0 L538.0,281.5 L534.4,280.9 L530.8,280.4 L527.1,279.9 L523.5,279.4 L519.8,278.9 L516.1,278.4 L512.3,278.0 L508.6,277.5 L504.8,277.1 L501.0,276.6 L497.2,276.2 L493.3,275.8 L489.5,275.4 L485.6,275.0 L481.7,274.6 L477.8,274.2 L473.8,273.8 L469.9,273.4 L465.9,273.1 L461.9,272.7 L457.8,272.3 L453.8,272.0 L449.7,271.6 L445.6,271.3 L441.5,270.9 L437.4,270.6 L433.3,270.3 L429.1,269.9 L424.9,269.6 L420.7,269.3 L416.5,268.9 L412.2,268.6 L408.0,268.3 L403.7,268.0 L399.4,267.7 L395.1,267.4 L390.7,267.0 L386.4,266.7 L382.0,266.4 L377.6,266.1 L373.2,265.9 L368.8,265.6 L364.3,265.3 L359.9,265.0 L355.4,264.7 L350.9,264.5 L346.4,264.2 L341.9,263.9 L337.3,263.7 L332.8,263.4 L328.2,263.2 L323.6,262.9 L319.0,262.7 L314.3,262.4" stroke-dasharray="11 5.6 2.4 5.5"/>
<path d="M753.2,122.2 L756.1,122.4 L758.8,122.7 L761.4,123.0 L763.9,123.3 L766.2,123.7 L768.4,124.1 L770.5,124.5 L772.5,124.9 L774.4,125.4 L776.1,125.9 L777.7,126.4 L779.1,127.0 L780.4,127.5 L781.7,128.2 L782.7,128.8 L783.7,129.5 L784.5,130.2 L785.2,130.9 L785.8,131.7 L786.2,132.5 L786.5,133.3 L786.7,134.1 L786.8,135.0 L787.2,135.9 L787.2,136.2 L787.2,136.6 L787.2,137.1 L787.1,137.6 L787.0,138.3 L786.9,138.9 L786.7,139.7 L786.5,140.4 L786.2,141.2 L785.9,142.1 L785.5,142.9 L785.0,143.8 L784.5,144.7 L783.9,145.6 L783.2,146.5 L782.4,147.5 L781.6,148.4 L780.7,149.4 L779.7,150.4 L778.6,151.3 L777.5,152.3 L776.3,153.3 L775.0,154.3 L773.7,155.3 L772.3,156.3 L770.9,157.4 L769.5,158.4 L768.0,159.4 L766.5,160.5 L765.0,161.6 L763.4,162.6 L761.7,163.7 L760.1,164.8 L758.3,165.9 L756.6,167.0 L754.8,168.1 L753.0,169.2 L751.1,170.3 L749.2,171.4 L747.3,172.5 L745.3,173.6 L743.3,174.6 L741.2,175.7 L739.2,176.8 L737.0,177.9 L734.9,179.0 L732.7,180.1 L730.4,181.2 L728.1,182.3 L725.8,183.4 L723.5,184.4 L721.1,185.5 L718.7,186.6 L716.2,187.6 L713.7,188.7 L711.2,189.8 L708.6,190.8 L706.0,191.9 L703.4,192.9 L700.7,193.9 L698.0,195.0 L695.3,196.0 L692.5,197.1 L689.7,198.1 L686.9,199.1 L684.0,200.2 L681.1,201.2 L678.2,202.2 L675.3,203.2 L672.3,204.3 L669.3,205.3 L666.2,206.3 L663.2,207.4 L660.1,208.4 L657.0,209.4 L653.8,210.5 L650.6,211.5 L647.4,212.5 L644.2,213.6 L641.0,214.6 L637.7,215.6 L634.4,216.7 L631.1,217.7 L627.7,218.7 L624.3,219.7 L620.9,220.7 L617.5,221.7 L614.0,222.7 L610.5,223.7 L607.0,224.7 L603.4,225.7 L599.9,226.7 L596.3,227.6 L592.7,228.6 L589.0,229.5 L585.3,230.4 L581.6,231.4 L577.9,232.3 L574.2,233.2 L570.4,234.0 L566.6,234.9 L562.8,235.7 L558.9,236.6 L555.0,237.4 L551.1,238.2 L547.2,239.0 L543.3,239.8 L539.3,240.6 L535.3,241.3 L531.3,242.1 L527.2,242.8 L523.1,243.5 L519.0,244.2 L514.9,244.9 L510.8,245.6 L506.6,246.2 L502.4,246.9 L498.2,247.5 L493.9,248.2 L489.7,248.8 L485.4,249.4 L481.1,250.0 L476.7,250.6 L472.3,251.2 L468.0,251.8 L463.5,252.3 L459.1,252.9 L454.6,253.4 L450.2,253.9 L445.6,254.4 L441.1,254.9 L436.6,255.4 L432.0,255.9 L427.4,256.4 L422.7,256.8 L418.1,257.2 L413.4,257.6 L408.7,258.0 L404.0,258.4 L399.3,258.8 L394.5,259.1 L389.7,259.5 L384.9,259.8 L380.1,260.1 L375.2,260.3 L370.3,260.6 L365.4,260.8 L360.5,261.0 L355.5,261.2 L350.6,261.4 L345.6,261.5 L340.6,261.7 L335.5,261.8 L330.5,261.9 L325.4,261.9 L320.3,261.9 L315.2,262.0" stroke-dasharray="12 5.4 2.2 4.7 2.2 5.4"/>
<path d="M753.2,243.7 L762.1,243.4 L769.7,243.3 L775.8,243.2 L780.6,243.2 L784.1,243.4 L786.1,243.6 L786.8,244.0 L774.7,245.0 L762.5,245.9 L750.4,246.9 L738.3,247.8 L726.1,248.6 L714.0,249.5 L701.8,250.3 L689.7,251.1 L677.6,251.8 L665.4,252.6 L653.3,253.3 L641.2,253.9 L629.0,254.6 L616.9,255.2 L604.8,255.8 L592.6,256.3 L580.5,256.9 L568.4,257.4 L556.2,257.9 L544.1,258.3 L531.9,258.8 L519.8,259.2 L507.7,259.5 L495.5,259.9 L483.4,260.2 L471.3,260.5 L459.1,260.8 L447.0,261.0 L434.9,261.3 L422.7,261.5 L410.6,261.7 L398.5,261.8 L386.3,262.0 L374.2,262.1 L362.0,262.2 L349.9,262.3 L337.8,262.3 L325.6,262.4 L313.5,262.4" stroke-dasharray="12 5.4 2.2 4.7 2.2 5.4"/>
<path d="M758.7,312.7 L761.1,311.5 L763.4,310.3 L765.6,309.1 L767.6,308.0 L769.6,306.9 L771.4,305.9 L773.2,304.9 L774.8,303.9 L776.4,302.9 L777.8,302.0 L779.2,301.1 L780.4,300.3 L781.5,299.5 L782.5,298.7 L783.4,297.9 L784.2,297.2 L784.9,296.5 L785.5,295.9 L786.0,295.2 L786.3,294.7 L786.6,294.1 L786.7,293.6 L786.8,293.1 L786.1,292.8 L786.1,292.5 L786.0,292.1 L786.0,291.7 L785.8,291.1 L785.7,290.5 L785.5,289.9 L785.2,289.2 L784.8,288.4 L784.4,287.6 L783.9,286.8 L783.4,286.0 L782.7,285.2 L782.0,284.4 L781.2,283.6 L780.3,282.9 L779.4,282.1 L778.4,281.4 L777.3,280.8 L776.1,280.2 L774.8,279.6 L773.5,279.1 L772.1,278.7 L770.6,278.2 L769.1,277.8 L767.5,277.5 L765.8,277.1 L764.1,276.8 L762.4,276.5 L760.6,276.2 L758.7,275.9 L756.9,275.6 L755.0,275.3 L753.1,274.9 L751.1,274.6 L749.1,274.3 L747.1,274.0 L745.0,273.7 L742.9,273.4 L740.8,273.1 L738.7,272.8 L736.5,272.5 L734.3,272.2 L732.0,272.0 L729.7,271.7 L727.4,271.4 L725.1,271.1 L722.7,270.9 L720.3,270.6 L717.9,270.3 L715.5,270.1 L713.0,269.9 L710.5,269.6 L707.9,269.4 L705.4,269.1 L702.8,268.9 L700.2,268.7 L697.5,268.5 L694.9,268.3 L692.2,268.1 L689.4,267.9 L686.7,267.7 L683.9,267.6 L681.1,267.4 L678.3,267.2 L675.4,267.1 L672.5,266.9 L669.6,266.8 L666.7,266.6 L663.7,266.5 L660.8,266.4 L657.8,266.3 L654.7,266.1 L651.7,266.0 L648.6,265.9 L645.5,265.8 L642.4,265.8 L639.2,265.7 L636.0,265.6 L632.8,265.5 L629.6,265.4 L626.4,265.4 L623.1,265.3 L619.8,265.3 L616.5,265.2 L613.1,265.2 L609.8,265.1 L606.4,265.1 L603.0,265.0 L599.5,265.0 L596.1,265.0 L592.6,264.9 L589.1,264.9 L585.5,264.9 L582.0,264.8 L578.4,264.8 L574.8,264.8 L571.2,264.7 L567.5,264.7 L563.8,264.6 L560.2,264.6 L556.4,264.5 L552.7,264.5 L548.9,264.5 L545.1,264.4 L541.3,264.4 L537.5,264.3 L533.7,264.3 L529.8,264.2 L525.9,264.2 L522.0,264.1 L518.0,264.1 L514.1,264.0 L510.1,264.0 L506.1,263.9 L502.0,263.9 L498.0,263.8 L493.9,263.7 L489.8,263.7 L485.7,263.6 L481.6,263.6 L477.4,263.5 L473.3,263.5 L469.1,263.4 L464.9,263.4 L460.6,263.3 L456.4,263.2 L452.1,263.2 L447.8,263.1 L443.5,263.1 L439.1,263.0 L434.8,263.0 L430.4,262.9 L426.0,262.9 L421.6,262.8 L417.2,262.8 L412.7,262.8 L408.3,262.7 L403.8,262.7 L399.3,262.6 L394.7,262.6 L390.2,262.6 L385.6,262.5 L381.0,262.5 L376.4,262.5 L371.8,262.4 L367.2,262.4 L362.5,262.4 L357.9,262.4 L353.2,262.4 L348.5,262.4 L343.7,262.4 L339.0,262.4 L334.2,262.4 L329.5,262.4 L324.7,262.4 L319.9,262.4 L315.0,262.4" stroke-dasharray="12 5.4 2.2 4.7 2.2 5.4" stroke-dashoffset="24.3"/>
<path d="M753.2,332.3 L756.9,333.1 L760.7,334.0 L764.4,334.9 L768.1,335.9 L771.9,336.8 L775.6,337.8 L779.3,338.7 L783.1,339.7 L786.8,341.4 L786.9,340.8 L786.7,340.7 L786.3,340.5 L785.8,340.4 L785.3,340.2 L784.7,340.0 L784.0,339.7 L783.3,339.5 L782.5,339.2 L781.6,338.9 L780.7,338.6 L779.8,338.2 L778.8,337.9 L777.7,337.5 L776.6,337.1 L775.5,336.7 L774.3,336.3 L773.1,335.9 L771.8,335.5 L770.5,335.0 L769.2,334.5 L767.8,334.1 L766.4,333.6 L764.9,333.1 L763.4,332.6 L761.9,332.1 L760.3,331.6 L758.7,331.0 L757.0,330.5 L755.3,329.9 L753.6,329.4 L751.9,328.8 L750.1,328.2 L748.2,327.7 L746.4,327.1 L744.5,326.5 L742.6,325.9 L740.6,325.3 L738.6,324.7 L736.6,324.1 L734.6,323.4 L732.5,322.8 L730.4,322.2 L728.2,321.5 L726.1,320.9 L723.9,320.2 L721.6,319.6 L719.4,318.9 L717.1,318.3 L714.7,317.6 L712.4,317.0 L710.0,316.3 L707.6,315.6 L705.1,314.9 L702.7,314.3 L700.2,313.6 L697.6,312.9 L695.1,312.2 L692.5,311.5 L689.9,310.8 L687.2,310.1 L684.6,309.4 L681.9,308.8 L679.1,308.1 L676.4,307.4 L673.6,306.7 L670.8,306.0 L668.0,305.3 L665.1,304.5 L662.2,303.8 L659.3,303.1 L656.3,302.4 L653.4,301.7 L650.4,301.0 L647.4,300.3 L644.3,299.6 L641.2,298.9 L638.1,298.2 L635.0,297.5 L631.9,296.8 L628.7,296.1 L625.5,295.4 L622.3,294.7 L619.0,294.0 L615.7,293.3 L612.4,292.6 L609.1,291.9 L605.7,291.2 L602.4,290.5 L599.0,289.8 L595.5,289.2 L592.1,288.5 L588.6,287.9 L585.1,287.2 L581.6,286.6 L578.0,285.9 L574.5,285.3 L570.9,284.7 L567.2,284.1 L563.6,283.5 L559.9,282.9 L556.2,282.3 L552.5,281.8 L548.8,281.2 L545.0,280.7 L541.2,280.2 L537.4,279.7 L533.6,279.2 L529.7,278.7 L525.8,278.2 L521.9,277.7 L518.0,277.3 L514.1,276.8 L510.1,276.4 L506.1,276.0 L502.1,275.6 L498.1,275.2 L494.0,274.8 L489.9,274.4 L485.8,274.0 L481.7,273.7 L477.6,273.3 L473.4,272.9 L469.2,272.6 L465.0,272.2 L460.8,271.9 L456.5,271.5 L452.3,271.2 L448.0,270.9 L443.7,270.5 L439.3,270.2 L435.0,269.9 L430.6,269.6 L426.2,269.2 L421.8,268.9 L417.4,268.6 L412.9,268.3 L408.4,268.0 L404.0,267.7 L399.4,267.4 L394.9,267.0 L390.4,266.7 L385.8,266.4 L381.2,266.2 L376.6,265.9 L372.0,265.6 L367.3,265.3 L362.7,265.0 L358.0,264.7 L353.3,264.5 L348.6,264.2 L343.8,263.9 L339.1,263.7 L334.3,263.4 L329.5,263.2 L324.7,262.9 L319.9,262.7 L315.1,262.4" stroke-dasharray="12 5.4 2.2 4.7 2.2 5.4" stroke-dashoffset="22.9"/>
</g>
</g>
<circle cx="726.6" cy="129.5" r="1.1" fill="#ff3333"/>
<g stroke="#000" stroke-width="1" fill="none">
<rect x="125.1" y="34.5" width="828.6" height="455.7"/>
<path d="M211.4,490.2 v-13 M211.4,34.5 v13"/>
<path d="M297.7,490.2 v-13 M297.7,34.5 v13"/>
<path d="M384.0,490.2 v-13 M384.0,34.5 v13"/>
<path d="M470.3,490.2 v-13 M470.3,34.5 v13"/>
<path d="M556.6,490.2 v-13 M556.6,34.5 v13"/>
<path d="M642.9,490.2 v-13 M642.9,34.5 v13"/>
<path d="M729.2,490.2 v-13 M729.2,34.5 v13"/>
<path d="M815.5,490.2 v-13 M815.5,34.5 v13"/>
<path d="M901.8,490.2 v-13 M901.8,34.5 v13"/>
<path d="M125.1,72.5 h13 M953.7,72.5 h-13"/>
<path d="M125.1,167.4 h13 M953.7,167.4 h-13"/>
<path d="M125.1,262.4 h13 M953.7,262.4 h-13"/>
<path d="M125.1,357.3 h13 M953.7,357.3 h-13"/>
<path d="M125.1,452.3 h13 M953.7,452.3 h-13"/>
</g>
<g fill="none" stroke-width="2.3">
<path d="M153,261.4 H222.2" stroke="#3333ff"/>
<path d="M153,294.5 H222.2" stroke="#33ff33"/>
<path d="M153,327.9 H222.2" stroke="#ff3333"/>
<path d="M153,361.0 H222.2" stroke="#000"/>
<path d="M153,394.3 H220.0" stroke="#000" stroke-dasharray="7 6.5"/>
<path d="M153,427.8 H222.2" stroke="#000" stroke-dasharray="14 4.3 2.4 4.3"/>
<path d="M153,460.8 H222.2" stroke="#000" stroke-dasharray="13 4.05 2.2 4.35 2.2 5.9"/>
</g>
<g font-family="'Liberation Serif', serif" fill="#000">
<text x="109.6" y="82.0" font-size="31.5" text-anchor="end">1</text>
<text x="109.6" y="176.9" font-size="31.5" text-anchor="end">0.5</text>
<text x="109.6" y="271.9" font-size="31.5" text-anchor="end">0</text>
<text x="109.6" y="366.8" font-size="31.5" text-anchor="end">0.5</text>
<path d="M49.9,358.8 H68.2" stroke="#000" stroke-width="1.25"/>
<text x="109.6" y="461.8" font-size="31.5" text-anchor="end">1</text>
<path d="M74.2,453.8 H92.5" stroke="#000" stroke-width="1.25"/>
<path d="M106.6,524.8 H124.7" stroke="#000" stroke-width="1.25"/>
<text x="135.3" y="533.3" font-size="31.5" text-anchor="middle">1</text>
<path d="M181.2,524.8 H199.3" stroke="#000" stroke-width="1.25"/>
<text x="221.6" y="533.3" font-size="31.5" text-anchor="middle">0.5</text>
<text x="296.4" y="533.3" font-size="31.5" text-anchor="middle">0</text>
<text x="382.7" y="533.3" font-size="31.5" text-anchor="middle">0.5</text>
<text x="469.0" y="533.3" font-size="31.5" text-anchor="middle">1</text>
<text x="555.3" y="533.3" font-size="31.5" text-anchor="middle">1.5</text>
<text x="641.6" y="533.3" font-size="31.5" text-anchor="middle">2</text>
<text x="727.9" y="533.3" font-size="31.5" text-anchor="middle">2.5</text>
<text x="814.2" y="533.3" font-size="31.5" text-anchor="middle">3</text>
<text x="900.5" y="533.3" font-size="31.5" text-anchor="middle">3.5</text>
<text x="234.3" y="270.7" font-size="25" textLength="33.4" lengthAdjust="spacingAndGlyphs">0.9</text>
<text x="234.3" y="303.8" font-size="25" textLength="33.4" lengthAdjust="spacingAndGlyphs">0.8</text>
<text x="234.3" y="337.2" font-size="25" textLength="33.4" lengthAdjust="spacingAndGlyphs">0.6</text>
<text x="235.8" y="369.9" font-size="26" font-style="italic" textLength="87.5" lengthAdjust="spacingAndGlyphs">DDQM</text>
<text x="329.2" y="369.9" font-size="25">1</text>
<text x="235.8" y="403.2" font-size="26" font-style="italic" textLength="87.5" lengthAdjust="spacingAndGlyphs">DDQM</text>
<text x="329.2" y="403.2" font-size="25">2</text>
<text x="235.8" y="436.7" font-size="26" font-style="italic" textLength="87.5" lengthAdjust="spacingAndGlyphs">DDQM</text>
<text x="329.2" y="436.7" font-size="25">3</text>
<text x="235.8" y="469.7" font-size="26" font-style="italic" textLength="87.5" lengthAdjust="spacingAndGlyphs">DDQM</text>
<text x="329.2" y="469.7" font-size="25">4</text>
<text x="815.3" y="32.5" font-size="26" font-style="italic" textLength="87.5" lengthAdjust="spacingAndGlyphs">DDQM</text>
<path d="M800.8,135.6 V165.2 M842.3,135.6 V165.2" stroke="#000" stroke-width="1.1"/>
<text x="802.2" y="158.2" font-size="30.5" font-style="italic" textLength="32" lengthAdjust="spacingAndGlyphs">W</text>
<text x="795.6" y="252" font-size="30.5" font-style="italic" textLength="19.5" lengthAdjust="spacingAndGlyphs">T</text>
<text x="815" y="257.6" font-size="22" font-style="italic" textLength="33" lengthAdjust="spacingAndGlyphs">kin</text>
<path d="M800.1,301.6 H818.2" stroke="#000" stroke-width="1.25"/>
<text x="818.8" y="310" font-size="30.5" font-style="italic">U</text>
<text x="798" y="347.5" font-size="30.5" font-style="italic" textLength="21" lengthAdjust="spacingAndGlyphs">E</text>
<text x="819" y="352.3" font-size="22" font-style="italic" textLength="44" lengthAdjust="spacingAndGlyphs">bind</text>
<g transform="translate(487.2,582.1)">
<text x="0.3" y="0" font-size="30.5" font-style="italic" textLength="29.8" lengthAdjust="spacingAndGlyphs">M</text>
<path d="M44.8,-21.7 H40.5 V7.1 H44.8 M94.60000000000001,-21.7 H98.9 V7.1 H94.60000000000001" fill="none" stroke="#000" stroke-width="1.15"/>
<text x="46.8" y="0" font-size="30.5" font-style="italic" textLength="28.8" lengthAdjust="spacingAndGlyphs">M</text>
<circle cx="84.1" cy="-0.5" r="7.2" fill="none" stroke="#000" stroke-width="1"/><circle cx="84.1" cy="-0.5" r="1.6"/>
</g>
<g transform="translate(34,310.5) rotate(-90)">
<text x="0.3" y="0" font-size="30.5" font-style="italic" textLength="21.5" lengthAdjust="spacingAndGlyphs">E</text>
<path d="M36.3,-21.7 H32.0 V7.1 H36.3 M85.7,-21.7 H90.0 V7.1 H85.7" fill="none" stroke="#000" stroke-width="1.15"/>
<text x="38.0" y="0" font-size="30.5" font-style="italic" textLength="28.8" lengthAdjust="spacingAndGlyphs">M</text>
<circle cx="74.8" cy="-0.5" r="7.2" fill="none" stroke="#000" stroke-width="1"/><circle cx="74.8" cy="-0.5" r="1.6"/>
</g>
</g>
</svg>
</body></html>
